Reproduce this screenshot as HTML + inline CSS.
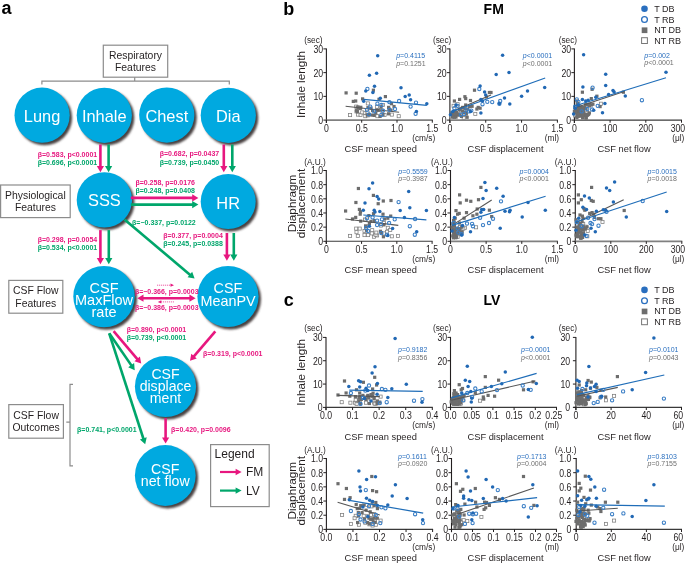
<!DOCTYPE html>
<html><head><meta charset="utf-8"><style>
html,body{margin:0;padding:0;background:#fff;overflow:hidden}
svg{display:block;will-change:transform}
</style></head><body>
<svg width="685" height="563" viewBox="0 0 685 563" font-family="Liberation Sans, sans-serif">
<defs><filter id="bl" x="-20%" y="-20%" width="140%" height="140%"><feGaussianBlur stdDeviation="0.9"/></filter></defs>
<rect width="685" height="563" fill="#fff"/>
<text x="1.50" y="14.30" font-size="18" fill="#000" text-anchor="start" font-weight="bold" >a</text><rect x="103.3" y="45.2" width="64.4" height="32" fill="none" stroke="#8c8c8c" stroke-width="1.2"/><text x="135.50" y="59.00" font-size="10.4" fill="#231f20" text-anchor="middle" >Respiratory</text><text x="135.50" y="71.40" font-size="10.4" fill="#231f20" text-anchor="middle" >Features</text><path d="M41.9 84.6V81.1H229.3V84.6M134.7 77.2V81.1" fill="none" stroke="#8c8c8c" stroke-width="1.2"/><circle cx="44.5" cy="117.7" r="27.6" fill="#4a4242" filter="url(#bl)"/><circle cx="42.1" cy="115.2" r="27.6" fill="#00a9e0"/><text x="42.10" y="121.80" font-size="16.4" fill="#fff" text-anchor="middle" >Lung</text><circle cx="106.7" cy="117.8" r="27.6" fill="#4a4242" filter="url(#bl)"/><circle cx="104.3" cy="115.3" r="27.6" fill="#00a9e0"/><text x="104.30" y="121.80" font-size="16.4" fill="#fff" text-anchor="middle" >Inhale</text><circle cx="169.20000000000002" cy="117.6" r="27.6" fill="#4a4242" filter="url(#bl)"/><circle cx="166.8" cy="115.1" r="27.6" fill="#00a9e0"/><text x="166.80" y="121.80" font-size="16.4" fill="#fff" text-anchor="middle" >Chest</text><circle cx="230.70000000000002" cy="117.8" r="27.6" fill="#4a4242" filter="url(#bl)"/><circle cx="228.3" cy="115.3" r="27.6" fill="#00a9e0"/><text x="228.30" y="121.80" font-size="16.4" fill="#fff" text-anchor="middle" >Dia</text><circle cx="106.80000000000001" cy="202.4" r="27.7" fill="#4a4242" filter="url(#bl)"/><circle cx="104.4" cy="199.9" r="27.7" fill="#00a9e0"/><text x="104.40" y="206.10" font-size="16.4" fill="#fff" text-anchor="middle" >SSS</text><circle cx="230.6" cy="204.0" r="27.5" fill="#4a4242" filter="url(#bl)"/><circle cx="228.2" cy="201.5" r="27.5" fill="#00a9e0"/><text x="228.20" y="208.50" font-size="16.4" fill="#fff" text-anchor="middle" >HR</text><circle cx="106.4" cy="299.1" r="30.7" fill="#4a4242" filter="url(#bl)"/><circle cx="104.0" cy="296.6" r="30.7" fill="#00a9e0"/><text x="104.00" y="292.70" font-size="14.5" fill="#fff" text-anchor="middle" >CSF</text><text x="104.00" y="305.20" font-size="14.5" fill="#fff" text-anchor="middle" >MaxFlow</text><text x="104.00" y="317.40" font-size="14.5" fill="#fff" text-anchor="middle" >rate</text><circle cx="230.4" cy="299.0" r="30.6" fill="#4a4242" filter="url(#bl)"/><circle cx="228.0" cy="296.5" r="30.6" fill="#00a9e0"/><text x="228.00" y="292.80" font-size="14.4" fill="#fff" text-anchor="middle" >CSF</text><text x="228.00" y="305.80" font-size="14.4" fill="#fff" text-anchor="middle" >MeanPV</text><circle cx="167.9" cy="389.0" r="30.6" fill="#4a4242" filter="url(#bl)"/><circle cx="165.5" cy="386.5" r="30.6" fill="#00a9e0"/><text x="165.50" y="378.50" font-size="14.1" fill="#fff" text-anchor="middle" >CSF</text><text x="165.50" y="390.60" font-size="14.1" fill="#fff" text-anchor="middle" >displace</text><text x="165.50" y="402.80" font-size="14.1" fill="#fff" text-anchor="middle" >ment</text><circle cx="167.70000000000002" cy="478.0" r="30.4" fill="#4a4242" filter="url(#bl)"/><circle cx="165.3" cy="475.5" r="30.4" fill="#00a9e0"/><text x="165.30" y="474.00" font-size="14.2" fill="#fff" text-anchor="middle" >CSF</text><text x="165.30" y="486.40" font-size="14.2" fill="#fff" text-anchor="middle" >net flow</text><rect x="0.6" y="185" width="69.6" height="32.6" fill="#fff" stroke="#8c8c8c" stroke-width="1.2"/><text x="35.40" y="198.89" font-size="10.4" fill="#231f20" text-anchor="middle" >Physiological</text><text x="35.40" y="211.19" font-size="10.4" fill="#231f20" text-anchor="middle" >Features</text><rect x="8.8" y="280.4" width="54" height="32.8" fill="#fff" stroke="#8c8c8c" stroke-width="1.2"/><text x="35.80" y="294.39" font-size="10.4" fill="#231f20" text-anchor="middle" >CSF Flow</text><text x="35.80" y="306.69" font-size="10.4" fill="#231f20" text-anchor="middle" >Features</text><rect x="8.8" y="404.6" width="54.6" height="33.6" fill="#fff" stroke="#8c8c8c" stroke-width="1.2"/><text x="36.10" y="418.99" font-size="10.4" fill="#231f20" text-anchor="middle" >CSF Flow</text><text x="36.10" y="431.29" font-size="10.4" fill="#231f20" text-anchor="middle" >Outcomes</text><path d="M73 384.3H70V465.9H73M70 422.2H66.3" fill="none" stroke="#8c8c8c" stroke-width="1.2"/><line x1="100.40" y1="144.50" x2="100.40" y2="167.24" stroke="#e7177f" stroke-width="2.6"/><path d="M100.40 172.20L96.80 166.00L104.00 166.00Z" fill="#e7177f"/><line x1="108.60" y1="144.50" x2="108.60" y2="167.24" stroke="#00a66b" stroke-width="2.6"/><path d="M108.60 172.20L105.00 166.00L112.20 166.00Z" fill="#00a66b"/><line x1="223.80" y1="144.50" x2="223.80" y2="167.24" stroke="#e7177f" stroke-width="2.6"/><path d="M223.80 172.20L220.20 166.00L227.40 166.00Z" fill="#e7177f"/><line x1="232.30" y1="144.50" x2="232.30" y2="167.24" stroke="#00a66b" stroke-width="2.6"/><path d="M232.30 172.20L228.70 166.00L235.90 166.00Z" fill="#00a66b"/><line x1="130.80" y1="197.90" x2="193.44" y2="197.90" stroke="#e7177f" stroke-width="2.6"/><path d="M198.40 197.90L192.20 201.50L192.20 194.30Z" fill="#e7177f"/><line x1="130.80" y1="204.60" x2="193.44" y2="204.60" stroke="#00a66b" stroke-width="2.6"/><path d="M198.40 204.60L192.20 208.20L192.20 201.00Z" fill="#00a66b"/><line x1="100.40" y1="230.10" x2="100.40" y2="259.34" stroke="#e7177f" stroke-width="2.6"/><path d="M100.40 264.30L96.80 258.10L104.00 258.10Z" fill="#e7177f"/><line x1="108.80" y1="230.10" x2="108.80" y2="259.34" stroke="#00a66b" stroke-width="2.6"/><path d="M108.80 264.30L105.20 258.10L112.40 258.10Z" fill="#00a66b"/><line x1="226.90" y1="233.00" x2="226.90" y2="255.84" stroke="#e7177f" stroke-width="2.6"/><path d="M226.90 260.80L223.30 254.60L230.50 254.60Z" fill="#e7177f"/><line x1="233.80" y1="233.00" x2="233.80" y2="255.84" stroke="#00a66b" stroke-width="2.6"/><path d="M233.80 260.80L230.20 254.60L237.40 254.60Z" fill="#00a66b"/><line x1="124.50" y1="219.50" x2="190.81" y2="275.40" stroke="#00a66b" stroke-width="2.6"/><path d="M194.60 278.60L187.54 277.36L192.18 271.85Z" fill="#00a66b"/><line x1="142.26" y1="298.20" x2="190.64" y2="298.20" stroke="#e7177f" stroke-width="2.6"/><path d="M195.60 298.20L189.40 301.80L189.40 294.60Z" fill="#e7177f"/><path d="M137.30 298.20L143.50 301.80L143.50 294.60Z" fill="#e7177f"/><line x1="113.60" y1="331.20" x2="137.98" y2="359.82" stroke="#e7177f" stroke-width="2.6"/><path d="M141.20 363.60L134.44 361.21L139.92 356.55Z" fill="#e7177f"/><line x1="109.20" y1="333.30" x2="131.88" y2="366.12" stroke="#00a66b" stroke-width="2.6"/><path d="M134.70 370.20L128.21 367.15L134.14 363.05Z" fill="#00a66b"/><line x1="109.20" y1="333.30" x2="143.67" y2="439.48" stroke="#00a66b" stroke-width="2.6"/><path d="M145.20 444.20L139.86 439.41L146.71 437.19Z" fill="#00a66b"/><line x1="215.30" y1="331.40" x2="193.24" y2="357.04" stroke="#e7177f" stroke-width="2.6"/><path d="M190.00 360.80L191.32 353.75L196.77 358.45Z" fill="#e7177f"/><line x1="165.60" y1="418.20" x2="165.60" y2="438.64" stroke="#e7177f" stroke-width="2.6"/><path d="M165.60 443.60L162.00 437.40L169.20 437.40Z" fill="#e7177f"/><line x1="157" y1="285.2" x2="171" y2="285.2" stroke="#e7177f" stroke-width="0.7" stroke-dasharray="1.2 0.8"/><path d="M174 285.2L170.5 283.6V286.8Z" fill="#e7177f"/><line x1="160.8" y1="301.9" x2="174.3" y2="301.9" stroke="#e7177f" stroke-width="0.7" stroke-dasharray="1.2 0.8"/><path d="M157.8 301.9L161.3 300.3V303.5Z" fill="#e7177f"/><text x="97.20" y="156.90" font-size="7" fill="#e7177f" text-anchor="end" font-weight="bold" >β=0.583, p&lt;0.0001</text><text x="97.20" y="164.70" font-size="7" fill="#00a66b" text-anchor="end" font-weight="bold" >β=0.696, p&lt;0.0001</text><text x="219.20" y="155.80" font-size="7" fill="#e7177f" text-anchor="end" font-weight="bold" >β=0.682, p=0.0437</text><text x="219.20" y="164.50" font-size="7" fill="#00a66b" text-anchor="end" font-weight="bold" >β=0.739, p=0.0450</text><text x="135.40" y="185.20" font-size="7" fill="#e7177f" text-anchor="start" font-weight="bold" >β=0.258, p=0.0176</text><text x="135.40" y="193.30" font-size="7" fill="#00a66b" text-anchor="start" font-weight="bold" >β=0.248, p=0.0408</text><text x="132.10" y="225.20" font-size="7" fill="#00a66b" text-anchor="start" font-weight="bold" >β=−0.337, p=0.0122</text><text x="97.20" y="242.00" font-size="7" fill="#e7177f" text-anchor="end" font-weight="bold" >β=0.298, p=0.0054</text><text x="97.20" y="249.70" font-size="7" fill="#00a66b" text-anchor="end" font-weight="bold" >β=0.534, p&lt;0.0001</text><text x="222.80" y="237.70" font-size="7" fill="#e7177f" text-anchor="end" font-weight="bold" >β=0.377, p=0.0004</text><text x="222.80" y="245.50" font-size="7" fill="#00a66b" text-anchor="end" font-weight="bold" >β=0.245, p=0.0388</text><text x="134.90" y="293.50" font-size="7" fill="#e7177f" text-anchor="start" font-weight="bold" >β=−0.366, p=0.0003</text><text x="134.90" y="309.90" font-size="7" fill="#e7177f" text-anchor="start" font-weight="bold" >β=−0.386, p=0.0003</text><text x="126.70" y="331.80" font-size="7" fill="#e7177f" text-anchor="start" font-weight="bold" >β=0.890, p&lt;0.0001</text><text x="126.70" y="340.10" font-size="7" fill="#00a66b" text-anchor="start" font-weight="bold" >β=0.739, p&lt;0.0001</text><text x="202.90" y="355.80" font-size="7" fill="#e7177f" text-anchor="start" font-weight="bold" >β=0.319, p&lt;0.0001</text><text x="77.10" y="432.00" font-size="7" fill="#00a66b" text-anchor="start" font-weight="bold" >β=0.741, p&lt;0.0001</text><text x="171.10" y="432.30" font-size="7" fill="#e7177f" text-anchor="start" font-weight="bold" >β=0.420, p=0.0096</text><rect x="210.6" y="444.6" width="58.6" height="62" fill="none" stroke="#8c8c8c" stroke-width="1.2"/><text x="214.60" y="458.10" font-size="12" fill="#231f20" text-anchor="start" >Legend</text><line x1="220.00" y1="472.00" x2="236.80" y2="472.00" stroke="#e7177f" stroke-width="2.2"/><path d="M241.60 472.00L235.60 475.20L235.60 468.80Z" fill="#e7177f"/><text x="246.00" y="476.30" font-size="12" fill="#231f20" text-anchor="start" >FM</text><line x1="220.00" y1="490.60" x2="236.80" y2="490.60" stroke="#00a66b" stroke-width="2.2"/><path d="M241.60 490.60L235.60 493.80L235.60 487.40Z" fill="#00a66b"/><text x="246.00" y="494.90" font-size="12" fill="#231f20" text-anchor="start" >LV</text>
<line x1="326.4" y1="48.40" x2="326.4" y2="122.90" stroke="#231f20" stroke-width="1.1"/><line x1="326.4" y1="120.1" x2="432.80" y2="120.1" stroke="#808080" stroke-width="1.7"/><line x1="323.40" y1="120.10" x2="326.4" y2="120.10" stroke="#231f20" stroke-width="1"/><text x="323.10" y="124.00" font-size="10" fill="#231f20" text-anchor="end" textLength="4.84" lengthAdjust="spacingAndGlyphs">0</text><line x1="323.40" y1="96.37" x2="326.4" y2="96.37" stroke="#231f20" stroke-width="1"/><text x="323.10" y="100.27" font-size="10" fill="#231f20" text-anchor="end" textLength="9.68" lengthAdjust="spacingAndGlyphs">10</text><line x1="323.40" y1="72.63" x2="326.4" y2="72.63" stroke="#231f20" stroke-width="1"/><text x="323.10" y="76.53" font-size="10" fill="#231f20" text-anchor="end" textLength="9.68" lengthAdjust="spacingAndGlyphs">20</text><line x1="323.40" y1="48.90" x2="326.4" y2="48.90" stroke="#231f20" stroke-width="1"/><text x="323.10" y="52.80" font-size="10" fill="#231f20" text-anchor="end" textLength="9.68" lengthAdjust="spacingAndGlyphs">30</text><line x1="326.40" y1="120.1" x2="326.40" y2="122.70" stroke="#231f20" stroke-width="1"/><text x="326.40" y="132.10" font-size="10" fill="#231f20" text-anchor="middle" textLength="4.84" lengthAdjust="spacingAndGlyphs">0</text><line x1="361.70" y1="120.1" x2="361.70" y2="122.70" stroke="#231f20" stroke-width="1"/><text x="361.70" y="132.10" font-size="10" fill="#231f20" text-anchor="middle" textLength="12.09" lengthAdjust="spacingAndGlyphs">0.5</text><line x1="397.00" y1="120.1" x2="397.00" y2="122.70" stroke="#231f20" stroke-width="1"/><text x="397.00" y="132.10" font-size="10" fill="#231f20" text-anchor="middle" textLength="12.09" lengthAdjust="spacingAndGlyphs">1.0</text><line x1="432.30" y1="120.1" x2="432.30" y2="122.70" stroke="#231f20" stroke-width="1"/><text x="432.30" y="132.10" font-size="10" fill="#231f20" text-anchor="middle" textLength="12.09" lengthAdjust="spacingAndGlyphs">1.5</text><text x="435.20" y="140.50" font-size="8.3" fill="#231f20" text-anchor="end" >(cm/s)</text><text x="380.70" y="151.90" font-size="9.3" fill="#231f20" text-anchor="middle" >CSF mean speed</text><text x="313.40" y="42.90" font-size="8.3" fill="#231f20" text-anchor="middle" >(sec)</text><text x="396.20" y="58.10" font-size="7" fill="#2a6fbf" text-anchor="start" ><tspan font-style="italic">p</tspan>=0.4115</text><text x="396.20" y="65.60" font-size="7" fill="#6f6f6f" text-anchor="start" ><tspan font-style="italic">p</tspan>=0.1251</text><line x1="449.9" y1="48.40" x2="449.9" y2="122.90" stroke="#231f20" stroke-width="1.1"/><line x1="449.9" y1="120.1" x2="557.90" y2="120.1" stroke="#808080" stroke-width="1.7"/><line x1="446.90" y1="120.10" x2="449.9" y2="120.10" stroke="#231f20" stroke-width="1"/><text x="446.60" y="124.00" font-size="10" fill="#231f20" text-anchor="end" textLength="4.84" lengthAdjust="spacingAndGlyphs">0</text><line x1="446.90" y1="96.37" x2="449.9" y2="96.37" stroke="#231f20" stroke-width="1"/><text x="446.60" y="100.27" font-size="10" fill="#231f20" text-anchor="end" textLength="9.68" lengthAdjust="spacingAndGlyphs">10</text><line x1="446.90" y1="72.63" x2="449.9" y2="72.63" stroke="#231f20" stroke-width="1"/><text x="446.60" y="76.53" font-size="10" fill="#231f20" text-anchor="end" textLength="9.68" lengthAdjust="spacingAndGlyphs">20</text><line x1="446.90" y1="48.90" x2="449.9" y2="48.90" stroke="#231f20" stroke-width="1"/><text x="446.60" y="52.80" font-size="10" fill="#231f20" text-anchor="end" textLength="9.68" lengthAdjust="spacingAndGlyphs">30</text><line x1="449.90" y1="120.1" x2="449.90" y2="122.70" stroke="#231f20" stroke-width="1"/><text x="449.90" y="132.10" font-size="10" fill="#231f20" text-anchor="middle" textLength="4.84" lengthAdjust="spacingAndGlyphs">0</text><line x1="485.73" y1="120.1" x2="485.73" y2="122.70" stroke="#231f20" stroke-width="1"/><text x="485.73" y="132.10" font-size="10" fill="#231f20" text-anchor="middle" textLength="12.09" lengthAdjust="spacingAndGlyphs">0.5</text><line x1="521.57" y1="120.1" x2="521.57" y2="122.70" stroke="#231f20" stroke-width="1"/><text x="521.57" y="132.10" font-size="10" fill="#231f20" text-anchor="middle" textLength="12.09" lengthAdjust="spacingAndGlyphs">1.0</text><line x1="557.40" y1="120.1" x2="557.40" y2="122.70" stroke="#231f20" stroke-width="1"/><text x="557.40" y="132.10" font-size="10" fill="#231f20" text-anchor="middle" textLength="12.09" lengthAdjust="spacingAndGlyphs">1.5</text><text x="559.00" y="140.50" font-size="8.3" fill="#231f20" text-anchor="end" >(ml)</text><text x="505.50" y="151.90" font-size="9.3" fill="#231f20" text-anchor="middle" >CSF displacement</text><text x="442.10" y="42.90" font-size="8.3" fill="#231f20" text-anchor="middle" >(sec)</text><text x="522.80" y="58.30" font-size="7" fill="#2a6fbf" text-anchor="start" ><tspan font-style="italic">p</tspan>&lt;0.0001</text><text x="522.80" y="65.80" font-size="7" fill="#6f6f6f" text-anchor="start" ><tspan font-style="italic">p</tspan>&lt;0.0001</text><line x1="574.4" y1="48.40" x2="574.4" y2="122.90" stroke="#231f20" stroke-width="1.1"/><line x1="574.4" y1="120.1" x2="682.00" y2="120.1" stroke="#3a3a3a" stroke-width="1.1"/><line x1="571.40" y1="120.10" x2="574.4" y2="120.10" stroke="#231f20" stroke-width="1"/><text x="571.10" y="124.00" font-size="10" fill="#231f20" text-anchor="end" textLength="4.84" lengthAdjust="spacingAndGlyphs">0</text><line x1="571.40" y1="96.37" x2="574.4" y2="96.37" stroke="#231f20" stroke-width="1"/><text x="571.10" y="100.27" font-size="10" fill="#231f20" text-anchor="end" textLength="9.68" lengthAdjust="spacingAndGlyphs">10</text><line x1="571.40" y1="72.63" x2="574.4" y2="72.63" stroke="#231f20" stroke-width="1"/><text x="571.10" y="76.53" font-size="10" fill="#231f20" text-anchor="end" textLength="9.68" lengthAdjust="spacingAndGlyphs">20</text><line x1="571.40" y1="48.90" x2="574.4" y2="48.90" stroke="#231f20" stroke-width="1"/><text x="571.10" y="52.80" font-size="10" fill="#231f20" text-anchor="end" textLength="9.68" lengthAdjust="spacingAndGlyphs">30</text><line x1="574.40" y1="120.1" x2="574.40" y2="122.70" stroke="#231f20" stroke-width="1"/><text x="574.40" y="132.10" font-size="10" fill="#231f20" text-anchor="middle" textLength="4.84" lengthAdjust="spacingAndGlyphs">0</text><line x1="610.10" y1="120.1" x2="610.10" y2="122.70" stroke="#231f20" stroke-width="1"/><text x="610.10" y="132.10" font-size="10" fill="#231f20" text-anchor="middle" textLength="14.51" lengthAdjust="spacingAndGlyphs">100</text><line x1="645.80" y1="120.1" x2="645.80" y2="122.70" stroke="#231f20" stroke-width="1"/><text x="645.80" y="132.10" font-size="10" fill="#231f20" text-anchor="middle" textLength="14.51" lengthAdjust="spacingAndGlyphs">200</text><line x1="681.50" y1="120.1" x2="681.50" y2="122.70" stroke="#231f20" stroke-width="1"/><text x="685.20" y="132.10" font-size="10" fill="#231f20" text-anchor="end" textLength="14.51" lengthAdjust="spacingAndGlyphs">300</text><text x="684.40" y="140.50" font-size="8.3" fill="#231f20" text-anchor="end" >(μl)</text><text x="624.00" y="151.90" font-size="9.3" fill="#231f20" text-anchor="middle" >CSF net flow</text><text x="567.90" y="42.90" font-size="8.3" fill="#231f20" text-anchor="middle" >(sec)</text><text x="644.30" y="57.90" font-size="7" fill="#2a6fbf" text-anchor="start" ><tspan font-style="italic">p</tspan>=0.002</text><text x="644.30" y="65.40" font-size="7" fill="#6f6f6f" text-anchor="start" ><tspan font-style="italic">p</tspan>&lt;0.0001</text><line x1="326.3" y1="170.00" x2="326.3" y2="244.10" stroke="#231f20" stroke-width="1.1"/><line x1="326.3" y1="241.3" x2="432.60" y2="241.3" stroke="#3a3a3a" stroke-width="1.1"/><line x1="323.30" y1="241.30" x2="326.3" y2="241.30" stroke="#231f20" stroke-width="1"/><text x="323.00" y="245.20" font-size="10" fill="#231f20" text-anchor="end" textLength="4.84" lengthAdjust="spacingAndGlyphs">0</text><line x1="323.30" y1="227.14" x2="326.3" y2="227.14" stroke="#231f20" stroke-width="1"/><text x="323.00" y="231.04" font-size="10" fill="#231f20" text-anchor="end" textLength="12.09" lengthAdjust="spacingAndGlyphs">0.2</text><line x1="323.30" y1="212.98" x2="326.3" y2="212.98" stroke="#231f20" stroke-width="1"/><text x="323.00" y="216.88" font-size="10" fill="#231f20" text-anchor="end" textLength="12.09" lengthAdjust="spacingAndGlyphs">0.4</text><line x1="323.30" y1="198.82" x2="326.3" y2="198.82" stroke="#231f20" stroke-width="1"/><text x="323.00" y="202.72" font-size="10" fill="#231f20" text-anchor="end" textLength="12.09" lengthAdjust="spacingAndGlyphs">0.6</text><line x1="323.30" y1="184.66" x2="326.3" y2="184.66" stroke="#231f20" stroke-width="1"/><text x="323.00" y="188.56" font-size="10" fill="#231f20" text-anchor="end" textLength="12.09" lengthAdjust="spacingAndGlyphs">0.8</text><line x1="323.30" y1="170.50" x2="326.3" y2="170.50" stroke="#231f20" stroke-width="1"/><text x="323.00" y="174.40" font-size="10" fill="#231f20" text-anchor="end" textLength="12.09" lengthAdjust="spacingAndGlyphs">1.0</text><line x1="326.30" y1="241.3" x2="326.30" y2="243.90" stroke="#231f20" stroke-width="1"/><text x="326.30" y="253.30" font-size="10" fill="#231f20" text-anchor="middle" textLength="4.84" lengthAdjust="spacingAndGlyphs">0</text><line x1="361.57" y1="241.3" x2="361.57" y2="243.90" stroke="#231f20" stroke-width="1"/><text x="361.57" y="253.30" font-size="10" fill="#231f20" text-anchor="middle" textLength="12.09" lengthAdjust="spacingAndGlyphs">0.5</text><line x1="396.83" y1="241.3" x2="396.83" y2="243.90" stroke="#231f20" stroke-width="1"/><text x="396.83" y="253.30" font-size="10" fill="#231f20" text-anchor="middle" textLength="12.09" lengthAdjust="spacingAndGlyphs">1.0</text><line x1="432.10" y1="241.3" x2="432.10" y2="243.90" stroke="#231f20" stroke-width="1"/><text x="432.10" y="253.30" font-size="10" fill="#231f20" text-anchor="middle" textLength="12.09" lengthAdjust="spacingAndGlyphs">1.5</text><text x="435.20" y="261.70" font-size="8.3" fill="#231f20" text-anchor="end" >(cm/s)</text><text x="380.70" y="273.40" font-size="9.3" fill="#231f20" text-anchor="middle" >CSF mean speed</text><text x="315.00" y="164.50" font-size="8.3" fill="#231f20" text-anchor="middle" >(A.U.)</text><text x="398.30" y="173.90" font-size="7" fill="#2a6fbf" text-anchor="start" ><tspan font-style="italic">p</tspan>=0.5559</text><text x="398.30" y="181.40" font-size="7" fill="#6f6f6f" text-anchor="start" ><tspan font-style="italic">p</tspan>=0.3987</text><line x1="450.5" y1="170.00" x2="450.5" y2="244.10" stroke="#231f20" stroke-width="1.1"/><line x1="450.5" y1="241.3" x2="557.90" y2="241.3" stroke="#808080" stroke-width="1.7"/><line x1="447.50" y1="241.30" x2="450.5" y2="241.30" stroke="#231f20" stroke-width="1"/><text x="447.20" y="245.20" font-size="10" fill="#231f20" text-anchor="end" textLength="4.84" lengthAdjust="spacingAndGlyphs">0</text><line x1="447.50" y1="227.14" x2="450.5" y2="227.14" stroke="#231f20" stroke-width="1"/><text x="447.20" y="231.04" font-size="10" fill="#231f20" text-anchor="end" textLength="12.09" lengthAdjust="spacingAndGlyphs">0.2</text><line x1="447.50" y1="212.98" x2="450.5" y2="212.98" stroke="#231f20" stroke-width="1"/><text x="447.20" y="216.88" font-size="10" fill="#231f20" text-anchor="end" textLength="12.09" lengthAdjust="spacingAndGlyphs">0.4</text><line x1="447.50" y1="198.82" x2="450.5" y2="198.82" stroke="#231f20" stroke-width="1"/><text x="447.20" y="202.72" font-size="10" fill="#231f20" text-anchor="end" textLength="12.09" lengthAdjust="spacingAndGlyphs">0.6</text><line x1="447.50" y1="184.66" x2="450.5" y2="184.66" stroke="#231f20" stroke-width="1"/><text x="447.20" y="188.56" font-size="10" fill="#231f20" text-anchor="end" textLength="12.09" lengthAdjust="spacingAndGlyphs">0.8</text><line x1="447.50" y1="170.50" x2="450.5" y2="170.50" stroke="#231f20" stroke-width="1"/><text x="447.20" y="174.40" font-size="10" fill="#231f20" text-anchor="end" textLength="12.09" lengthAdjust="spacingAndGlyphs">1.0</text><line x1="450.50" y1="241.3" x2="450.50" y2="243.90" stroke="#231f20" stroke-width="1"/><text x="450.50" y="253.30" font-size="10" fill="#231f20" text-anchor="middle" textLength="4.84" lengthAdjust="spacingAndGlyphs">0</text><line x1="486.13" y1="241.3" x2="486.13" y2="243.90" stroke="#231f20" stroke-width="1"/><text x="486.13" y="253.30" font-size="10" fill="#231f20" text-anchor="middle" textLength="12.09" lengthAdjust="spacingAndGlyphs">0.5</text><line x1="521.77" y1="241.3" x2="521.77" y2="243.90" stroke="#231f20" stroke-width="1"/><text x="521.77" y="253.30" font-size="10" fill="#231f20" text-anchor="middle" textLength="12.09" lengthAdjust="spacingAndGlyphs">1.0</text><line x1="557.40" y1="241.3" x2="557.40" y2="243.90" stroke="#231f20" stroke-width="1"/><text x="557.40" y="253.30" font-size="10" fill="#231f20" text-anchor="middle" textLength="12.09" lengthAdjust="spacingAndGlyphs">1.5</text><text x="559.00" y="261.70" font-size="8.3" fill="#231f20" text-anchor="end" >(ml)</text><text x="505.50" y="273.40" font-size="9.3" fill="#231f20" text-anchor="middle" >CSF displacement</text><text x="441.90" y="164.50" font-size="8.3" fill="#231f20" text-anchor="middle" >(A.U.)</text><text x="519.50" y="173.90" font-size="7" fill="#2a6fbf" text-anchor="start" ><tspan font-style="italic">p</tspan>=0.0004</text><text x="519.50" y="181.40" font-size="7" fill="#6f6f6f" text-anchor="start" ><tspan font-style="italic">p</tspan>&lt;0.0001</text><line x1="575.3" y1="170.00" x2="575.3" y2="244.10" stroke="#231f20" stroke-width="1.1"/><line x1="574.6" y1="241.3" x2="682.30" y2="241.3" stroke="#808080" stroke-width="1.7"/><line x1="572.30" y1="241.30" x2="575.3" y2="241.30" stroke="#231f20" stroke-width="1"/><text x="571.30" y="245.20" font-size="10" fill="#231f20" text-anchor="end" textLength="4.84" lengthAdjust="spacingAndGlyphs">0</text><line x1="572.30" y1="227.14" x2="575.3" y2="227.14" stroke="#231f20" stroke-width="1"/><text x="571.30" y="231.04" font-size="10" fill="#231f20" text-anchor="end" textLength="12.09" lengthAdjust="spacingAndGlyphs">0.2</text><line x1="572.30" y1="212.98" x2="575.3" y2="212.98" stroke="#231f20" stroke-width="1"/><text x="571.30" y="216.88" font-size="10" fill="#231f20" text-anchor="end" textLength="12.09" lengthAdjust="spacingAndGlyphs">0.4</text><line x1="572.30" y1="198.82" x2="575.3" y2="198.82" stroke="#231f20" stroke-width="1"/><text x="571.30" y="202.72" font-size="10" fill="#231f20" text-anchor="end" textLength="12.09" lengthAdjust="spacingAndGlyphs">0.6</text><line x1="572.30" y1="184.66" x2="575.3" y2="184.66" stroke="#231f20" stroke-width="1"/><text x="571.30" y="188.56" font-size="10" fill="#231f20" text-anchor="end" textLength="12.09" lengthAdjust="spacingAndGlyphs">0.8</text><line x1="572.30" y1="170.50" x2="575.3" y2="170.50" stroke="#231f20" stroke-width="1"/><text x="571.30" y="174.40" font-size="10" fill="#231f20" text-anchor="end" textLength="12.09" lengthAdjust="spacingAndGlyphs">1.0</text><line x1="575.30" y1="241.3" x2="575.30" y2="243.90" stroke="#231f20" stroke-width="1"/><text x="575.30" y="253.30" font-size="10" fill="#231f20" text-anchor="middle" textLength="4.84" lengthAdjust="spacingAndGlyphs">0</text><line x1="610.80" y1="241.3" x2="610.80" y2="243.90" stroke="#231f20" stroke-width="1"/><text x="610.80" y="253.30" font-size="10" fill="#231f20" text-anchor="middle" textLength="14.51" lengthAdjust="spacingAndGlyphs">100</text><line x1="646.30" y1="241.3" x2="646.30" y2="243.90" stroke="#231f20" stroke-width="1"/><text x="646.30" y="253.30" font-size="10" fill="#231f20" text-anchor="middle" textLength="14.51" lengthAdjust="spacingAndGlyphs">200</text><line x1="681.80" y1="241.3" x2="681.80" y2="243.90" stroke="#231f20" stroke-width="1"/><text x="685.20" y="253.30" font-size="10" fill="#231f20" text-anchor="end" textLength="14.51" lengthAdjust="spacingAndGlyphs">300</text><text x="684.40" y="261.70" font-size="8.3" fill="#231f20" text-anchor="end" >(μl)</text><text x="624.00" y="273.40" font-size="9.3" fill="#231f20" text-anchor="middle" >CSF net flow</text><text x="565.70" y="164.50" font-size="8.3" fill="#231f20" text-anchor="middle" >(A.U.)</text><text x="647.50" y="173.90" font-size="7" fill="#2a6fbf" text-anchor="start" ><tspan font-style="italic">p</tspan>=0.0015</text><text x="647.50" y="181.40" font-size="7" fill="#6f6f6f" text-anchor="start" ><tspan font-style="italic">p</tspan>=0.0018</text><line x1="326.0" y1="336.90" x2="326.0" y2="410.20" stroke="#231f20" stroke-width="1.1"/><line x1="326.0" y1="407.4" x2="432.80" y2="407.4" stroke="#3a3a3a" stroke-width="1.1"/><line x1="323.00" y1="407.40" x2="326.0" y2="407.40" stroke="#231f20" stroke-width="1"/><text x="322.70" y="411.30" font-size="10" fill="#231f20" text-anchor="end" textLength="4.84" lengthAdjust="spacingAndGlyphs">0</text><line x1="323.00" y1="384.07" x2="326.0" y2="384.07" stroke="#231f20" stroke-width="1"/><text x="322.70" y="387.97" font-size="10" fill="#231f20" text-anchor="end" textLength="9.68" lengthAdjust="spacingAndGlyphs">10</text><line x1="323.00" y1="360.73" x2="326.0" y2="360.73" stroke="#231f20" stroke-width="1"/><text x="322.70" y="364.63" font-size="10" fill="#231f20" text-anchor="end" textLength="9.68" lengthAdjust="spacingAndGlyphs">20</text><line x1="323.00" y1="337.40" x2="326.0" y2="337.40" stroke="#231f20" stroke-width="1"/><text x="322.70" y="341.30" font-size="10" fill="#231f20" text-anchor="end" textLength="9.68" lengthAdjust="spacingAndGlyphs">30</text><line x1="326.00" y1="407.4" x2="326.00" y2="410.00" stroke="#231f20" stroke-width="1"/><text x="326.00" y="419.40" font-size="10" fill="#231f20" text-anchor="middle" textLength="12.09" lengthAdjust="spacingAndGlyphs">0.0</text><line x1="352.57" y1="407.4" x2="352.57" y2="410.00" stroke="#231f20" stroke-width="1"/><text x="352.57" y="419.40" font-size="10" fill="#231f20" text-anchor="middle" textLength="12.09" lengthAdjust="spacingAndGlyphs">0.1</text><line x1="379.15" y1="407.4" x2="379.15" y2="410.00" stroke="#231f20" stroke-width="1"/><text x="379.15" y="419.40" font-size="10" fill="#231f20" text-anchor="middle" textLength="12.09" lengthAdjust="spacingAndGlyphs">0.2</text><line x1="405.73" y1="407.4" x2="405.73" y2="410.00" stroke="#231f20" stroke-width="1"/><text x="405.73" y="419.40" font-size="10" fill="#231f20" text-anchor="middle" textLength="12.09" lengthAdjust="spacingAndGlyphs">0.3</text><line x1="432.30" y1="407.4" x2="432.30" y2="410.00" stroke="#231f20" stroke-width="1"/><text x="432.30" y="419.40" font-size="10" fill="#231f20" text-anchor="middle" textLength="12.09" lengthAdjust="spacingAndGlyphs">0.4</text><text x="435.20" y="427.80" font-size="8.3" fill="#231f20" text-anchor="end" >(cm/s)</text><text x="380.70" y="440.00" font-size="9.3" fill="#231f20" text-anchor="middle" >CSF mean speed</text><text x="313.40" y="331.40" font-size="8.3" fill="#231f20" text-anchor="middle" >(sec)</text><text x="398.00" y="352.30" font-size="7" fill="#2a6fbf" text-anchor="start" ><tspan font-style="italic">p</tspan>=0.9182</text><text x="398.00" y="359.80" font-size="7" fill="#6f6f6f" text-anchor="start" ><tspan font-style="italic">p</tspan>=0.8356</text><line x1="450.5" y1="336.90" x2="450.5" y2="410.20" stroke="#231f20" stroke-width="1.1"/><line x1="450.5" y1="407.4" x2="557.00" y2="407.4" stroke="#3a3a3a" stroke-width="1.1"/><line x1="447.50" y1="407.40" x2="450.5" y2="407.40" stroke="#231f20" stroke-width="1"/><text x="447.20" y="411.30" font-size="10" fill="#231f20" text-anchor="end" textLength="4.84" lengthAdjust="spacingAndGlyphs">0</text><line x1="447.50" y1="384.07" x2="450.5" y2="384.07" stroke="#231f20" stroke-width="1"/><text x="447.20" y="387.97" font-size="10" fill="#231f20" text-anchor="end" textLength="9.68" lengthAdjust="spacingAndGlyphs">10</text><line x1="447.50" y1="360.73" x2="450.5" y2="360.73" stroke="#231f20" stroke-width="1"/><text x="447.20" y="364.63" font-size="10" fill="#231f20" text-anchor="end" textLength="9.68" lengthAdjust="spacingAndGlyphs">20</text><line x1="447.50" y1="337.40" x2="450.5" y2="337.40" stroke="#231f20" stroke-width="1"/><text x="447.20" y="341.30" font-size="10" fill="#231f20" text-anchor="end" textLength="9.68" lengthAdjust="spacingAndGlyphs">30</text><line x1="450.50" y1="407.4" x2="450.50" y2="410.00" stroke="#231f20" stroke-width="1"/><text x="450.50" y="419.40" font-size="10" fill="#231f20" text-anchor="middle" textLength="12.09" lengthAdjust="spacingAndGlyphs">0.0</text><line x1="471.70" y1="407.4" x2="471.70" y2="410.00" stroke="#231f20" stroke-width="1"/><text x="471.70" y="419.40" font-size="10" fill="#231f20" text-anchor="middle" textLength="16.93" lengthAdjust="spacingAndGlyphs">0.05</text><line x1="492.90" y1="407.4" x2="492.90" y2="410.00" stroke="#231f20" stroke-width="1"/><text x="492.90" y="419.40" font-size="10" fill="#231f20" text-anchor="middle" textLength="12.09" lengthAdjust="spacingAndGlyphs">0.1</text><line x1="514.10" y1="407.4" x2="514.10" y2="410.00" stroke="#231f20" stroke-width="1"/><text x="514.10" y="419.40" font-size="10" fill="#231f20" text-anchor="middle" textLength="16.93" lengthAdjust="spacingAndGlyphs">0.15</text><line x1="535.30" y1="407.4" x2="535.30" y2="410.00" stroke="#231f20" stroke-width="1"/><text x="535.30" y="419.40" font-size="10" fill="#231f20" text-anchor="middle" textLength="12.09" lengthAdjust="spacingAndGlyphs">0.2</text><line x1="556.50" y1="407.4" x2="556.50" y2="410.00" stroke="#231f20" stroke-width="1"/><text x="553.80" y="419.40" font-size="10" fill="#231f20" text-anchor="middle" textLength="16.93" lengthAdjust="spacingAndGlyphs">0.25</text><text x="559.00" y="427.80" font-size="8.3" fill="#231f20" text-anchor="end" >(ml)</text><text x="505.50" y="440.00" font-size="9.3" fill="#231f20" text-anchor="middle" >CSF displacement</text><text x="442.10" y="331.40" font-size="8.3" fill="#231f20" text-anchor="middle" >(sec)</text><text x="521.10" y="352.30" font-size="7" fill="#2a6fbf" text-anchor="start" ><tspan font-style="italic">p</tspan>=0.0001</text><text x="521.10" y="359.80" font-size="7" fill="#6f6f6f" text-anchor="start" ><tspan font-style="italic">p</tspan>&lt;0.0001</text><line x1="575.9" y1="336.90" x2="575.9" y2="410.20" stroke="#231f20" stroke-width="1.1"/><line x1="573.4" y1="407.4" x2="682.00" y2="407.4" stroke="#3a3a3a" stroke-width="1.1"/><line x1="572.90" y1="407.40" x2="575.9" y2="407.40" stroke="#231f20" stroke-width="1"/><text x="570.10" y="411.30" font-size="10" fill="#231f20" text-anchor="end" textLength="4.84" lengthAdjust="spacingAndGlyphs">0</text><line x1="572.90" y1="384.07" x2="575.9" y2="384.07" stroke="#231f20" stroke-width="1"/><text x="570.10" y="387.97" font-size="10" fill="#231f20" text-anchor="end" textLength="9.68" lengthAdjust="spacingAndGlyphs">10</text><line x1="572.90" y1="360.73" x2="575.9" y2="360.73" stroke="#231f20" stroke-width="1"/><text x="570.10" y="364.63" font-size="10" fill="#231f20" text-anchor="end" textLength="9.68" lengthAdjust="spacingAndGlyphs">20</text><line x1="572.90" y1="337.40" x2="575.9" y2="337.40" stroke="#231f20" stroke-width="1"/><text x="570.10" y="341.30" font-size="10" fill="#231f20" text-anchor="end" textLength="9.68" lengthAdjust="spacingAndGlyphs">30</text><line x1="575.90" y1="407.4" x2="575.90" y2="410.00" stroke="#231f20" stroke-width="1"/><text x="575.90" y="419.40" font-size="10" fill="#231f20" text-anchor="middle" textLength="4.84" lengthAdjust="spacingAndGlyphs">0</text><line x1="611.10" y1="407.4" x2="611.10" y2="410.00" stroke="#231f20" stroke-width="1"/><text x="611.10" y="419.40" font-size="10" fill="#231f20" text-anchor="middle" textLength="9.68" lengthAdjust="spacingAndGlyphs">20</text><line x1="646.30" y1="407.4" x2="646.30" y2="410.00" stroke="#231f20" stroke-width="1"/><text x="646.30" y="419.40" font-size="10" fill="#231f20" text-anchor="middle" textLength="9.68" lengthAdjust="spacingAndGlyphs">40</text><line x1="681.50" y1="407.4" x2="681.50" y2="410.00" stroke="#231f20" stroke-width="1"/><text x="683.20" y="419.40" font-size="10" fill="#231f20" text-anchor="end" textLength="9.68" lengthAdjust="spacingAndGlyphs">60</text><text x="684.40" y="427.80" font-size="8.3" fill="#231f20" text-anchor="end" >(μl)</text><text x="624.00" y="440.00" font-size="9.3" fill="#231f20" text-anchor="middle" >CSF net flow</text><text x="567.90" y="331.40" font-size="8.3" fill="#231f20" text-anchor="middle" >(sec)</text><text x="649.10" y="352.30" font-size="7" fill="#2a6fbf" text-anchor="start" ><tspan font-style="italic">p</tspan>=0.0101</text><text x="649.10" y="359.80" font-size="7" fill="#6f6f6f" text-anchor="start" ><tspan font-style="italic">p</tspan>=0.0043</text><line x1="326.4" y1="458.00" x2="326.4" y2="532.20" stroke="#231f20" stroke-width="1.1"/><line x1="326.4" y1="529.4" x2="433.10" y2="529.4" stroke="#3a3a3a" stroke-width="1.1"/><line x1="323.40" y1="529.40" x2="326.4" y2="529.40" stroke="#231f20" stroke-width="1"/><text x="323.10" y="533.30" font-size="10" fill="#231f20" text-anchor="end" textLength="4.84" lengthAdjust="spacingAndGlyphs">0</text><line x1="323.40" y1="515.22" x2="326.4" y2="515.22" stroke="#231f20" stroke-width="1"/><text x="323.10" y="519.12" font-size="10" fill="#231f20" text-anchor="end" textLength="12.09" lengthAdjust="spacingAndGlyphs">0.2</text><line x1="323.40" y1="501.04" x2="326.4" y2="501.04" stroke="#231f20" stroke-width="1"/><text x="323.10" y="504.94" font-size="10" fill="#231f20" text-anchor="end" textLength="12.09" lengthAdjust="spacingAndGlyphs">0.4</text><line x1="323.40" y1="486.86" x2="326.4" y2="486.86" stroke="#231f20" stroke-width="1"/><text x="323.10" y="490.76" font-size="10" fill="#231f20" text-anchor="end" textLength="12.09" lengthAdjust="spacingAndGlyphs">0.6</text><line x1="323.40" y1="472.68" x2="326.4" y2="472.68" stroke="#231f20" stroke-width="1"/><text x="323.10" y="476.58" font-size="10" fill="#231f20" text-anchor="end" textLength="12.09" lengthAdjust="spacingAndGlyphs">0.8</text><line x1="323.40" y1="458.50" x2="326.4" y2="458.50" stroke="#231f20" stroke-width="1"/><text x="323.10" y="462.40" font-size="10" fill="#231f20" text-anchor="end" textLength="12.09" lengthAdjust="spacingAndGlyphs">1.0</text><line x1="326.40" y1="529.4" x2="326.40" y2="532.00" stroke="#231f20" stroke-width="1"/><text x="326.40" y="541.40" font-size="10" fill="#231f20" text-anchor="middle" textLength="12.09" lengthAdjust="spacingAndGlyphs">0.0</text><line x1="352.95" y1="529.4" x2="352.95" y2="532.00" stroke="#231f20" stroke-width="1"/><text x="352.95" y="541.40" font-size="10" fill="#231f20" text-anchor="middle" textLength="12.09" lengthAdjust="spacingAndGlyphs">0.1</text><line x1="379.50" y1="529.4" x2="379.50" y2="532.00" stroke="#231f20" stroke-width="1"/><text x="379.50" y="541.40" font-size="10" fill="#231f20" text-anchor="middle" textLength="12.09" lengthAdjust="spacingAndGlyphs">0.2</text><line x1="406.05" y1="529.4" x2="406.05" y2="532.00" stroke="#231f20" stroke-width="1"/><text x="406.05" y="541.40" font-size="10" fill="#231f20" text-anchor="middle" textLength="12.09" lengthAdjust="spacingAndGlyphs">0.3</text><line x1="432.60" y1="529.4" x2="432.60" y2="532.00" stroke="#231f20" stroke-width="1"/><text x="432.60" y="541.40" font-size="10" fill="#231f20" text-anchor="middle" textLength="12.09" lengthAdjust="spacingAndGlyphs">0.4</text><text x="435.20" y="549.80" font-size="8.3" fill="#231f20" text-anchor="end" >(cm/s)</text><text x="380.70" y="561.20" font-size="9.3" fill="#231f20" text-anchor="middle" >CSF mean speed</text><text x="315.00" y="452.50" font-size="8.3" fill="#231f20" text-anchor="middle" >(A.U.)</text><text x="398.00" y="458.60" font-size="7" fill="#2a6fbf" text-anchor="start" ><tspan font-style="italic">p</tspan>=0.1611</text><text x="398.00" y="466.10" font-size="7" fill="#6f6f6f" text-anchor="start" ><tspan font-style="italic">p</tspan>=0.0920</text><line x1="451.5" y1="458.00" x2="451.5" y2="532.20" stroke="#231f20" stroke-width="1.1"/><line x1="451.5" y1="529.4" x2="557.00" y2="529.4" stroke="#3a3a3a" stroke-width="1.1"/><line x1="448.50" y1="529.40" x2="451.5" y2="529.40" stroke="#231f20" stroke-width="1"/><text x="448.20" y="533.30" font-size="10" fill="#231f20" text-anchor="end" textLength="4.84" lengthAdjust="spacingAndGlyphs">0</text><line x1="448.50" y1="515.22" x2="451.5" y2="515.22" stroke="#231f20" stroke-width="1"/><text x="448.20" y="519.12" font-size="10" fill="#231f20" text-anchor="end" textLength="12.09" lengthAdjust="spacingAndGlyphs">0.2</text><line x1="448.50" y1="501.04" x2="451.5" y2="501.04" stroke="#231f20" stroke-width="1"/><text x="448.20" y="504.94" font-size="10" fill="#231f20" text-anchor="end" textLength="12.09" lengthAdjust="spacingAndGlyphs">0.4</text><line x1="448.50" y1="486.86" x2="451.5" y2="486.86" stroke="#231f20" stroke-width="1"/><text x="448.20" y="490.76" font-size="10" fill="#231f20" text-anchor="end" textLength="12.09" lengthAdjust="spacingAndGlyphs">0.6</text><line x1="448.50" y1="472.68" x2="451.5" y2="472.68" stroke="#231f20" stroke-width="1"/><text x="448.20" y="476.58" font-size="10" fill="#231f20" text-anchor="end" textLength="12.09" lengthAdjust="spacingAndGlyphs">0.8</text><line x1="448.50" y1="458.50" x2="451.5" y2="458.50" stroke="#231f20" stroke-width="1"/><text x="448.20" y="462.40" font-size="10" fill="#231f20" text-anchor="end" textLength="12.09" lengthAdjust="spacingAndGlyphs">1.0</text><line x1="451.50" y1="529.4" x2="451.50" y2="532.00" stroke="#231f20" stroke-width="1"/><text x="451.50" y="541.40" font-size="10" fill="#231f20" text-anchor="middle" textLength="12.09" lengthAdjust="spacingAndGlyphs">0.0</text><line x1="472.50" y1="529.4" x2="472.50" y2="532.00" stroke="#231f20" stroke-width="1"/><text x="472.50" y="541.40" font-size="10" fill="#231f20" text-anchor="middle" textLength="16.93" lengthAdjust="spacingAndGlyphs">0.05</text><line x1="493.50" y1="529.4" x2="493.50" y2="532.00" stroke="#231f20" stroke-width="1"/><text x="493.50" y="541.40" font-size="10" fill="#231f20" text-anchor="middle" textLength="12.09" lengthAdjust="spacingAndGlyphs">0.1</text><line x1="514.50" y1="529.4" x2="514.50" y2="532.00" stroke="#231f20" stroke-width="1"/><text x="514.50" y="541.40" font-size="10" fill="#231f20" text-anchor="middle" textLength="16.93" lengthAdjust="spacingAndGlyphs">0.15</text><line x1="535.50" y1="529.4" x2="535.50" y2="532.00" stroke="#231f20" stroke-width="1"/><text x="535.50" y="541.40" font-size="10" fill="#231f20" text-anchor="middle" textLength="12.09" lengthAdjust="spacingAndGlyphs">0.2</text><line x1="556.50" y1="529.4" x2="556.50" y2="532.00" stroke="#231f20" stroke-width="1"/><text x="553.80" y="541.40" font-size="10" fill="#231f20" text-anchor="middle" textLength="16.93" lengthAdjust="spacingAndGlyphs">0.25</text><text x="559.00" y="549.80" font-size="8.3" fill="#231f20" text-anchor="end" >(ml)</text><text x="505.50" y="561.20" font-size="9.3" fill="#231f20" text-anchor="middle" >CSF displacement</text><text x="441.90" y="452.50" font-size="8.3" fill="#231f20" text-anchor="middle" >(A.U.)</text><text x="517.10" y="458.60" font-size="7" fill="#2a6fbf" text-anchor="start" ><tspan font-style="italic">p</tspan>=0.1713</text><text x="517.10" y="466.10" font-size="7" fill="#6f6f6f" text-anchor="start" ><tspan font-style="italic">p</tspan>=0.0004</text><line x1="576.2" y1="458.00" x2="576.2" y2="532.20" stroke="#231f20" stroke-width="1.1"/><line x1="574.6" y1="529.4" x2="682.00" y2="529.4" stroke="#3a3a3a" stroke-width="1.1"/><line x1="573.20" y1="529.40" x2="576.2" y2="529.40" stroke="#231f20" stroke-width="1"/><text x="571.30" y="533.30" font-size="10" fill="#231f20" text-anchor="end" textLength="4.84" lengthAdjust="spacingAndGlyphs">0</text><line x1="573.20" y1="515.22" x2="576.2" y2="515.22" stroke="#231f20" stroke-width="1"/><text x="571.30" y="519.12" font-size="10" fill="#231f20" text-anchor="end" textLength="12.09" lengthAdjust="spacingAndGlyphs">0.2</text><line x1="573.20" y1="501.04" x2="576.2" y2="501.04" stroke="#231f20" stroke-width="1"/><text x="571.30" y="504.94" font-size="10" fill="#231f20" text-anchor="end" textLength="12.09" lengthAdjust="spacingAndGlyphs">0.4</text><line x1="573.20" y1="486.86" x2="576.2" y2="486.86" stroke="#231f20" stroke-width="1"/><text x="571.30" y="490.76" font-size="10" fill="#231f20" text-anchor="end" textLength="12.09" lengthAdjust="spacingAndGlyphs">0.6</text><line x1="573.20" y1="472.68" x2="576.2" y2="472.68" stroke="#231f20" stroke-width="1"/><text x="571.30" y="476.58" font-size="10" fill="#231f20" text-anchor="end" textLength="12.09" lengthAdjust="spacingAndGlyphs">0.8</text><line x1="573.20" y1="458.50" x2="576.2" y2="458.50" stroke="#231f20" stroke-width="1"/><text x="571.30" y="462.40" font-size="10" fill="#231f20" text-anchor="end" textLength="12.09" lengthAdjust="spacingAndGlyphs">1.0</text><line x1="576.20" y1="529.4" x2="576.20" y2="532.00" stroke="#231f20" stroke-width="1"/><text x="576.20" y="541.40" font-size="10" fill="#231f20" text-anchor="middle" textLength="4.84" lengthAdjust="spacingAndGlyphs">0</text><line x1="611.30" y1="529.4" x2="611.30" y2="532.00" stroke="#231f20" stroke-width="1"/><text x="611.30" y="541.40" font-size="10" fill="#231f20" text-anchor="middle" textLength="9.68" lengthAdjust="spacingAndGlyphs">20</text><line x1="646.40" y1="529.4" x2="646.40" y2="532.00" stroke="#231f20" stroke-width="1"/><text x="646.40" y="541.40" font-size="10" fill="#231f20" text-anchor="middle" textLength="9.68" lengthAdjust="spacingAndGlyphs">40</text><line x1="681.50" y1="529.4" x2="681.50" y2="532.00" stroke="#231f20" stroke-width="1"/><text x="683.20" y="541.40" font-size="10" fill="#231f20" text-anchor="end" textLength="9.68" lengthAdjust="spacingAndGlyphs">60</text><text x="684.40" y="549.80" font-size="8.3" fill="#231f20" text-anchor="end" >(μl)</text><text x="624.00" y="561.20" font-size="9.3" fill="#231f20" text-anchor="middle" >CSF net flow</text><text x="565.70" y="452.50" font-size="8.3" fill="#231f20" text-anchor="middle" >(A.U.)</text><text x="647.50" y="458.60" font-size="7" fill="#2a6fbf" text-anchor="start" ><tspan font-style="italic">p</tspan>=0.8103</text><text x="647.50" y="466.10" font-size="7" fill="#6f6f6f" text-anchor="start" ><tspan font-style="italic">p</tspan>=0.7155</text><text transform="translate(305.4 84.50) rotate(-90)" x="0" y="0" font-size="11.7" fill="#231f20" text-anchor="middle">Inhale length</text><text transform="translate(295.9 203.50) rotate(-90)" x="0" y="0" font-size="11.8" fill="#231f20" text-anchor="middle">Diaphragm</text><text transform="translate(305.4 203.50) rotate(-90)" x="0" y="0" font-size="11.8" fill="#231f20" text-anchor="middle">displacement</text><text transform="translate(305.4 372.40) rotate(-90)" x="0" y="0" font-size="11.7" fill="#231f20" text-anchor="middle">Inhale length</text><text transform="translate(295.9 490.75) rotate(-90)" x="0" y="0" font-size="11.8" fill="#231f20" text-anchor="middle">Diaphragm</text><text transform="translate(305.4 490.75) rotate(-90)" x="0" y="0" font-size="11.8" fill="#231f20" text-anchor="middle">displacement</text><text x="283.20" y="14.60" font-size="18" fill="#000" text-anchor="start" font-weight="bold" >b</text><text x="483.60" y="14.20" font-size="14" fill="#000" text-anchor="start" font-weight="bold" >FM</text><text x="483.60" y="305.40" font-size="14" fill="#000" text-anchor="start" font-weight="bold" >LV</text><text x="283.70" y="306.20" font-size="18" fill="#000" text-anchor="start" font-weight="bold" >c</text><circle cx="644.5" cy="8.7" r="3.3" fill="#2a6fbf"/><circle cx="644.5" cy="19.5" r="2.9" fill="none" stroke="#2a6fbf" stroke-width="1.3"/><rect x="641.7" y="27.4" width="5.7" height="5.7" fill="#6d6d6d"/><rect x="641.6" y="37.7" width="5.8" height="5.8" fill="none" stroke="#777" stroke-width="1"/><text x="654.20" y="12.00" font-size="9" fill="#231f20" text-anchor="start" >T DB</text><text x="654.20" y="22.60" font-size="9" fill="#231f20" text-anchor="start" >T RB</text><text x="654.20" y="33.20" font-size="9" fill="#231f20" text-anchor="start" >NT DB</text><text x="654.20" y="43.80" font-size="9" fill="#231f20" text-anchor="start" >NT RB</text><circle cx="644.5" cy="289.9" r="3.3" fill="#2a6fbf"/><circle cx="644.5" cy="300.7" r="2.9" fill="none" stroke="#2a6fbf" stroke-width="1.3"/><rect x="641.7" y="308.59999999999997" width="5.7" height="5.7" fill="#6d6d6d"/><rect x="641.6" y="318.9" width="5.8" height="5.8" fill="none" stroke="#777" stroke-width="1"/><text x="654.20" y="293.20" font-size="9" fill="#231f20" text-anchor="start" >T DB</text><text x="654.20" y="303.80" font-size="9" fill="#231f20" text-anchor="start" >T RB</text><text x="654.20" y="314.40" font-size="9" fill="#231f20" text-anchor="start" >NT DB</text><text x="654.20" y="325.00" font-size="9" fill="#231f20" text-anchor="start" >NT RB</text><rect x="348.55" y="113.55" width="3.1" height="3.1" fill="#fff" fill-opacity="0.7" stroke="#7d7d7d" stroke-width="0.75"/><rect x="356.55" y="113.05" width="3.1" height="3.1" fill="#fff" fill-opacity="0.7" stroke="#7d7d7d" stroke-width="0.75"/><rect x="358.95" y="113.35" width="3.1" height="3.1" fill="#fff" fill-opacity="0.7" stroke="#7d7d7d" stroke-width="0.75"/><rect x="362.95" y="111.45" width="3.1" height="3.1" fill="#fff" fill-opacity="0.7" stroke="#7d7d7d" stroke-width="0.75"/><rect x="363.75" y="114.65" width="3.1" height="3.1" fill="#fff" fill-opacity="0.7" stroke="#7d7d7d" stroke-width="0.75"/><rect x="366.25" y="101.85" width="3.1" height="3.1" fill="#fff" fill-opacity="0.7" stroke="#7d7d7d" stroke-width="0.75"/><rect x="354.65" y="105.05" width="3.1" height="3.1" fill="#fff" fill-opacity="0.7" stroke="#7d7d7d" stroke-width="0.75"/><rect x="354.95" y="109.85" width="3.1" height="3.1" fill="#fff" fill-opacity="0.7" stroke="#7d7d7d" stroke-width="0.75"/><rect x="381.45" y="103.45" width="3.1" height="3.1" fill="#fff" fill-opacity="0.7" stroke="#7d7d7d" stroke-width="0.75"/><rect x="383.05" y="113.35" width="3.1" height="3.1" fill="#fff" fill-opacity="0.7" stroke="#7d7d7d" stroke-width="0.75"/><rect x="390.25" y="113.05" width="3.1" height="3.1" fill="#fff" fill-opacity="0.7" stroke="#7d7d7d" stroke-width="0.75"/><rect x="397.15" y="114.65" width="3.1" height="3.1" fill="#fff" fill-opacity="0.7" stroke="#7d7d7d" stroke-width="0.75"/><rect x="375.85" y="114.65" width="3.1" height="3.1" fill="#fff" fill-opacity="0.7" stroke="#7d7d7d" stroke-width="0.75"/><rect x="366.25" y="113.85" width="3.1" height="3.1" fill="#fff" fill-opacity="0.7" stroke="#7d7d7d" stroke-width="0.75"/><rect x="360.68" y="110.85" width="3.1" height="3.1" fill="#fff" fill-opacity="0.7" stroke="#7d7d7d" stroke-width="0.75"/><rect x="379.01" y="108.55" width="3.1" height="3.1" fill="#fff" fill-opacity="0.7" stroke="#7d7d7d" stroke-width="0.75"/><rect x="375.36" y="105.14" width="3.1" height="3.1" fill="#fff" fill-opacity="0.7" stroke="#7d7d7d" stroke-width="0.75"/><rect x="355.83" y="106.72" width="3.1" height="3.1" fill="#fff" fill-opacity="0.7" stroke="#7d7d7d" stroke-width="0.75"/><rect x="380.67" y="109.15" width="3.1" height="3.1" fill="#fff" fill-opacity="0.7" stroke="#7d7d7d" stroke-width="0.75"/><rect x="366.02" y="110.89" width="3.1" height="3.1" fill="#fff" fill-opacity="0.7" stroke="#7d7d7d" stroke-width="0.75"/><rect x="344.50" y="91.30" width="3.2" height="3.2" fill="#6d6d6d"/><rect x="354.60" y="91.60" width="3.2" height="3.2" fill="#6d6d6d"/><rect x="371.80" y="88.60" width="3.2" height="3.2" fill="#6d6d6d"/><rect x="361.00" y="97.30" width="3.2" height="3.2" fill="#6d6d6d"/><rect x="351.70" y="99.80" width="3.2" height="3.2" fill="#6d6d6d"/><rect x="354.10" y="99.40" width="3.2" height="3.2" fill="#6d6d6d"/><rect x="383.80" y="95.00" width="3.2" height="3.2" fill="#6d6d6d"/><rect x="377.40" y="97.70" width="3.2" height="3.2" fill="#6d6d6d"/><rect x="389.90" y="102.10" width="3.2" height="3.2" fill="#6d6d6d"/><rect x="356.50" y="105.80" width="3.2" height="3.2" fill="#6d6d6d"/><rect x="358.90" y="106.60" width="3.2" height="3.2" fill="#6d6d6d"/><rect x="369.40" y="106.60" width="3.2" height="3.2" fill="#6d6d6d"/><rect x="371.00" y="109.00" width="3.2" height="3.2" fill="#6d6d6d"/><rect x="387.00" y="105.80" width="3.2" height="3.2" fill="#6d6d6d"/><rect x="374.20" y="111.40" width="3.2" height="3.2" fill="#6d6d6d"/><rect x="367.80" y="113.00" width="3.2" height="3.2" fill="#6d6d6d"/><rect x="381.40" y="113.00" width="3.2" height="3.2" fill="#6d6d6d"/><rect x="387.00" y="112.20" width="3.2" height="3.2" fill="#6d6d6d"/><rect x="389.40" y="108.50" width="3.2" height="3.2" fill="#6d6d6d"/><rect x="372.60" y="113.80" width="3.2" height="3.2" fill="#6d6d6d"/><rect x="366.35" y="106.06" width="3.2" height="3.2" fill="#6d6d6d"/><rect x="379.44" y="105.20" width="3.2" height="3.2" fill="#6d6d6d"/><rect x="374.84" y="108.42" width="3.2" height="3.2" fill="#6d6d6d"/><rect x="355.72" y="109.98" width="3.2" height="3.2" fill="#6d6d6d"/><rect x="354.90" y="109.17" width="3.2" height="3.2" fill="#6d6d6d"/><rect x="356.19" y="105.40" width="3.2" height="3.2" fill="#6d6d6d"/><rect x="370.38" y="113.50" width="3.2" height="3.2" fill="#6d6d6d"/><rect x="358.35" y="106.86" width="3.2" height="3.2" fill="#6d6d6d"/><rect x="378.50" y="114.82" width="3.2" height="3.2" fill="#6d6d6d"/><rect x="376.48" y="108.76" width="3.2" height="3.2" fill="#6d6d6d"/><rect x="392.45" y="104.91" width="3.2" height="3.2" fill="#6d6d6d"/><rect x="387.74" y="107.59" width="3.2" height="3.2" fill="#6d6d6d"/><rect x="359.17" y="105.70" width="3.2" height="3.2" fill="#6d6d6d"/><rect x="365.74" y="113.38" width="3.2" height="3.2" fill="#6d6d6d"/><line x1="345.6" y1="106.2" x2="399.1" y2="112.2" stroke="#565656" stroke-width="1.1"/><circle cx="367.40" cy="88.90" r="1.65" fill="none" stroke="#3a7ec5" stroke-width="1.05"/><circle cx="377.40" cy="103.70" r="1.65" fill="none" stroke="#3a7ec5" stroke-width="1.05"/><circle cx="381.40" cy="105.00" r="1.65" fill="none" stroke="#3a7ec5" stroke-width="1.05"/><circle cx="389.40" cy="102.10" r="1.65" fill="none" stroke="#3a7ec5" stroke-width="1.05"/><circle cx="399.10" cy="101.00" r="1.65" fill="none" stroke="#3a7ec5" stroke-width="1.05"/><circle cx="416.00" cy="102.60" r="1.65" fill="none" stroke="#3a7ec5" stroke-width="1.05"/><circle cx="410.60" cy="106.60" r="1.65" fill="none" stroke="#3a7ec5" stroke-width="1.05"/><circle cx="395.00" cy="109.00" r="1.65" fill="none" stroke="#3a7ec5" stroke-width="1.05"/><circle cx="389.40" cy="109.80" r="1.65" fill="none" stroke="#3a7ec5" stroke-width="1.05"/><circle cx="383.00" cy="110.60" r="1.65" fill="none" stroke="#3a7ec5" stroke-width="1.05"/><circle cx="381.40" cy="114.90" r="1.65" fill="none" stroke="#3a7ec5" stroke-width="1.05"/><circle cx="370.20" cy="106.60" r="1.65" fill="none" stroke="#3a7ec5" stroke-width="1.05"/><circle cx="367.00" cy="109.80" r="1.65" fill="none" stroke="#3a7ec5" stroke-width="1.05"/><circle cx="415.60" cy="113.80" r="1.65" fill="none" stroke="#3a7ec5" stroke-width="1.05"/><circle cx="374.20" cy="111.40" r="1.65" fill="none" stroke="#3a7ec5" stroke-width="1.05"/><circle cx="369.00" cy="114.30" r="1.65" fill="none" stroke="#3a7ec5" stroke-width="1.05"/><circle cx="369.40" cy="75.30" r="1.75" fill="#2168b4"/><circle cx="376.60" cy="73.20" r="1.75" fill="#2168b4"/><circle cx="377.70" cy="55.70" r="1.75" fill="#2168b4"/><circle cx="374.50" cy="86.20" r="1.75" fill="#2168b4"/><circle cx="365.80" cy="91.00" r="1.75" fill="#2168b4"/><circle cx="372.90" cy="92.60" r="1.75" fill="#2168b4"/><circle cx="401.00" cy="87.80" r="1.75" fill="#2168b4"/><circle cx="409.20" cy="95.00" r="1.75" fill="#2168b4"/><circle cx="405.20" cy="96.60" r="1.75" fill="#2168b4"/><circle cx="410.60" cy="99.70" r="1.75" fill="#2168b4"/><circle cx="380.30" cy="98.20" r="1.75" fill="#2168b4"/><circle cx="363.70" cy="101.30" r="1.75" fill="#2168b4"/><circle cx="426.80" cy="103.80" r="1.75" fill="#2168b4"/><circle cx="416.40" cy="111.40" r="1.75" fill="#2168b4"/><line x1="363.7" y1="99.3" x2="426.8" y2="105.3" stroke="#1f6db8" stroke-width="1.2"/><rect x="473.75" y="112.35" width="3.1" height="3.1" fill="#fff" fill-opacity="0.7" stroke="#7d7d7d" stroke-width="0.75"/><rect x="462.55" y="113.15" width="3.1" height="3.1" fill="#fff" fill-opacity="0.7" stroke="#7d7d7d" stroke-width="0.75"/><rect x="456.05" y="113.15" width="3.1" height="3.1" fill="#fff" fill-opacity="0.7" stroke="#7d7d7d" stroke-width="0.75"/><rect x="452.05" y="104.25" width="3.1" height="3.1" fill="#fff" fill-opacity="0.7" stroke="#7d7d7d" stroke-width="0.75"/><rect x="456.05" y="102.65" width="3.1" height="3.1" fill="#fff" fill-opacity="0.7" stroke="#7d7d7d" stroke-width="0.75"/><rect x="449.65" y="114.75" width="3.1" height="3.1" fill="#fff" fill-opacity="0.7" stroke="#7d7d7d" stroke-width="0.75"/><rect x="459.25" y="110.75" width="3.1" height="3.1" fill="#fff" fill-opacity="0.7" stroke="#7d7d7d" stroke-width="0.75"/><rect x="453.65" y="111.55" width="3.1" height="3.1" fill="#fff" fill-opacity="0.7" stroke="#7d7d7d" stroke-width="0.75"/><rect x="459.04" y="112.08" width="3.1" height="3.1" fill="#fff" fill-opacity="0.7" stroke="#7d7d7d" stroke-width="0.75"/><rect x="451.64" y="112.57" width="3.1" height="3.1" fill="#fff" fill-opacity="0.7" stroke="#7d7d7d" stroke-width="0.75"/><rect x="462.13" y="116.36" width="3.1" height="3.1" fill="#fff" fill-opacity="0.7" stroke="#7d7d7d" stroke-width="0.75"/><rect x="472.90" y="88.60" width="3.2" height="3.2" fill="#6d6d6d"/><rect x="463.30" y="95.10" width="3.2" height="3.2" fill="#6d6d6d"/><rect x="458.00" y="97.80" width="3.2" height="3.2" fill="#6d6d6d"/><rect x="452.80" y="99.40" width="3.2" height="3.2" fill="#6d6d6d"/><rect x="468.90" y="98.90" width="3.2" height="3.2" fill="#6d6d6d"/><rect x="464.10" y="97.00" width="3.2" height="3.2" fill="#6d6d6d"/><rect x="487.80" y="90.90" width="3.2" height="3.2" fill="#6d6d6d"/><rect x="489.40" y="90.90" width="3.2" height="3.2" fill="#6d6d6d"/><rect x="470.50" y="104.70" width="3.2" height="3.2" fill="#6d6d6d"/><rect x="476.60" y="105.80" width="3.2" height="3.2" fill="#6d6d6d"/><rect x="475.30" y="107.40" width="3.2" height="3.2" fill="#6d6d6d"/><rect x="464.10" y="103.40" width="3.2" height="3.2" fill="#6d6d6d"/><rect x="460.90" y="105.80" width="3.2" height="3.2" fill="#6d6d6d"/><rect x="457.60" y="108.20" width="3.2" height="3.2" fill="#6d6d6d"/><rect x="452.80" y="109.80" width="3.2" height="3.2" fill="#6d6d6d"/><rect x="450.40" y="112.30" width="3.2" height="3.2" fill="#6d6d6d"/><rect x="455.20" y="113.10" width="3.2" height="3.2" fill="#6d6d6d"/><rect x="451.20" y="115.50" width="3.2" height="3.2" fill="#6d6d6d"/><rect x="454.40" y="115.50" width="3.2" height="3.2" fill="#6d6d6d"/><rect x="484.90" y="95.40" width="3.2" height="3.2" fill="#6d6d6d"/><rect x="478.50" y="106.60" width="3.2" height="3.2" fill="#6d6d6d"/><rect x="458.61" y="107.30" width="3.2" height="3.2" fill="#6d6d6d"/><rect x="464.72" y="112.49" width="3.2" height="3.2" fill="#6d6d6d"/><rect x="454.87" y="110.87" width="3.2" height="3.2" fill="#6d6d6d"/><rect x="459.90" y="114.78" width="3.2" height="3.2" fill="#6d6d6d"/><rect x="463.56" y="107.14" width="3.2" height="3.2" fill="#6d6d6d"/><rect x="468.05" y="104.93" width="3.2" height="3.2" fill="#6d6d6d"/><rect x="457.98" y="113.24" width="3.2" height="3.2" fill="#6d6d6d"/><rect x="453.22" y="109.76" width="3.2" height="3.2" fill="#6d6d6d"/><rect x="451.20" y="112.09" width="3.2" height="3.2" fill="#6d6d6d"/><rect x="464.19" y="110.85" width="3.2" height="3.2" fill="#6d6d6d"/><rect x="466.17" y="107.48" width="3.2" height="3.2" fill="#6d6d6d"/><rect x="462.95" y="111.13" width="3.2" height="3.2" fill="#6d6d6d"/><rect x="460.88" y="109.33" width="3.2" height="3.2" fill="#6d6d6d"/><rect x="465.54" y="115.68" width="3.2" height="3.2" fill="#6d6d6d"/><rect x="455.35" y="112.11" width="3.2" height="3.2" fill="#6d6d6d"/><rect x="452.78" y="114.41" width="3.2" height="3.2" fill="#6d6d6d"/><rect x="450.63" y="113.17" width="3.2" height="3.2" fill="#6d6d6d"/><rect x="451.49" y="111.10" width="3.2" height="3.2" fill="#6d6d6d"/><rect x="450.85" y="115.01" width="3.2" height="3.2" fill="#6d6d6d"/><rect x="451.26" y="111.89" width="3.2" height="3.2" fill="#6d6d6d"/><rect x="452.81" y="115.63" width="3.2" height="3.2" fill="#6d6d6d"/><rect x="450.98" y="113.10" width="3.2" height="3.2" fill="#6d6d6d"/><line x1="450.4" y1="112.3" x2="491" y2="95.1" stroke="#565656" stroke-width="1.1"/><circle cx="479.30" cy="89.00" r="1.65" fill="none" stroke="#3a7ec5" stroke-width="1.05"/><circle cx="487.30" cy="101.80" r="1.65" fill="none" stroke="#3a7ec5" stroke-width="1.05"/><circle cx="492.20" cy="102.10" r="1.65" fill="none" stroke="#3a7ec5" stroke-width="1.05"/><circle cx="482.50" cy="104.20" r="1.65" fill="none" stroke="#3a7ec5" stroke-width="1.05"/><circle cx="500.20" cy="101.00" r="1.65" fill="none" stroke="#3a7ec5" stroke-width="1.05"/><circle cx="499.40" cy="103.70" r="1.65" fill="none" stroke="#3a7ec5" stroke-width="1.05"/><circle cx="466.50" cy="109.80" r="1.65" fill="none" stroke="#3a7ec5" stroke-width="1.05"/><circle cx="471.30" cy="110.60" r="1.65" fill="none" stroke="#3a7ec5" stroke-width="1.05"/><circle cx="457.60" cy="105.80" r="1.65" fill="none" stroke="#3a7ec5" stroke-width="1.05"/><circle cx="460.80" cy="114.70" r="1.65" fill="none" stroke="#3a7ec5" stroke-width="1.05"/><circle cx="454.40" cy="108.20" r="1.65" fill="none" stroke="#3a7ec5" stroke-width="1.05"/><circle cx="464.10" cy="113.90" r="1.65" fill="none" stroke="#3a7ec5" stroke-width="1.05"/><circle cx="468.90" cy="111.40" r="1.65" fill="none" stroke="#3a7ec5" stroke-width="1.05"/><circle cx="502.60" cy="55.20" r="1.75" fill="#2168b4"/><circle cx="496.20" cy="74.50" r="1.75" fill="#2168b4"/><circle cx="509.00" cy="72.60" r="1.75" fill="#2168b4"/><circle cx="544.70" cy="87.40" r="1.75" fill="#2168b4"/><circle cx="527.50" cy="90.90" r="1.75" fill="#2168b4"/><circle cx="521.60" cy="96.20" r="1.75" fill="#2168b4"/><circle cx="504.50" cy="98.10" r="1.75" fill="#2168b4"/><circle cx="509.80" cy="103.90" r="1.75" fill="#2168b4"/><circle cx="484.60" cy="91.90" r="1.75" fill="#2168b4"/><circle cx="485.70" cy="95.10" r="1.75" fill="#2168b4"/><circle cx="480.90" cy="99.40" r="1.75" fill="#2168b4"/><circle cx="480.90" cy="113.10" r="1.75" fill="#2168b4"/><circle cx="480.10" cy="86.10" r="1.75" fill="#2168b4"/><circle cx="470.50" cy="111.40" r="1.75" fill="#2168b4"/><circle cx="482.50" cy="101.00" r="1.75" fill="#2168b4"/><circle cx="499.40" cy="103.40" r="1.75" fill="#2168b4"/><circle cx="456.00" cy="105.00" r="1.75" fill="#2168b4"/><circle cx="452.80" cy="111.40" r="1.75" fill="#2168b4"/><circle cx="450.40" cy="114.70" r="1.75" fill="#2168b4"/><line x1="450.4" y1="112.3" x2="545.2" y2="78" stroke="#1f6db8" stroke-width="1.2"/><rect x="599.35" y="102.15" width="3.1" height="3.1" fill="#fff" fill-opacity="0.7" stroke="#7d7d7d" stroke-width="0.75"/><rect x="585.75" y="111.55" width="3.1" height="3.1" fill="#fff" fill-opacity="0.7" stroke="#7d7d7d" stroke-width="0.75"/><rect x="584.15" y="113.15" width="3.1" height="3.1" fill="#fff" fill-opacity="0.7" stroke="#7d7d7d" stroke-width="0.75"/><rect x="573.65" y="113.95" width="3.1" height="3.1" fill="#fff" fill-opacity="0.7" stroke="#7d7d7d" stroke-width="0.75"/><rect x="578.45" y="107.45" width="3.1" height="3.1" fill="#fff" fill-opacity="0.7" stroke="#7d7d7d" stroke-width="0.75"/><rect x="576.44" y="110.70" width="3.1" height="3.1" fill="#fff" fill-opacity="0.7" stroke="#7d7d7d" stroke-width="0.75"/><rect x="575.88" y="103.33" width="3.1" height="3.1" fill="#fff" fill-opacity="0.7" stroke="#7d7d7d" stroke-width="0.75"/><rect x="577.85" y="104.56" width="3.1" height="3.1" fill="#fff" fill-opacity="0.7" stroke="#7d7d7d" stroke-width="0.75"/><rect x="580.80" y="90.60" width="3.2" height="3.2" fill="#6d6d6d"/><rect x="590.50" y="87.70" width="3.2" height="3.2" fill="#6d6d6d"/><rect x="595.30" y="94.60" width="3.2" height="3.2" fill="#6d6d6d"/><rect x="621.80" y="90.60" width="3.2" height="3.2" fill="#6d6d6d"/><rect x="589.70" y="97.00" width="3.2" height="3.2" fill="#6d6d6d"/><rect x="588.10" y="102.60" width="3.2" height="3.2" fill="#6d6d6d"/><rect x="589.70" y="103.40" width="3.2" height="3.2" fill="#6d6d6d"/><rect x="598.50" y="105.00" width="3.2" height="3.2" fill="#6d6d6d"/><rect x="575.20" y="99.40" width="3.2" height="3.2" fill="#6d6d6d"/><rect x="576.00" y="101.80" width="3.2" height="3.2" fill="#6d6d6d"/><rect x="573.60" y="106.60" width="3.2" height="3.2" fill="#6d6d6d"/><rect x="575.20" y="108.20" width="3.2" height="3.2" fill="#6d6d6d"/><rect x="576.80" y="109.80" width="3.2" height="3.2" fill="#6d6d6d"/><rect x="578.40" y="110.70" width="3.2" height="3.2" fill="#6d6d6d"/><rect x="580.00" y="111.50" width="3.2" height="3.2" fill="#6d6d6d"/><rect x="581.60" y="109.00" width="3.2" height="3.2" fill="#6d6d6d"/><rect x="583.20" y="113.10" width="3.2" height="3.2" fill="#6d6d6d"/><rect x="584.90" y="113.90" width="3.2" height="3.2" fill="#6d6d6d"/><rect x="574.40" y="111.50" width="3.2" height="3.2" fill="#6d6d6d"/><rect x="576.00" y="113.10" width="3.2" height="3.2" fill="#6d6d6d"/><rect x="577.60" y="114.70" width="3.2" height="3.2" fill="#6d6d6d"/><rect x="579.20" y="113.90" width="3.2" height="3.2" fill="#6d6d6d"/><rect x="572.80" y="109.80" width="3.2" height="3.2" fill="#6d6d6d"/><rect x="580.80" y="106.60" width="3.2" height="3.2" fill="#6d6d6d"/><rect x="582.40" y="106.60" width="3.2" height="3.2" fill="#6d6d6d"/><rect x="586.50" y="103.40" width="3.2" height="3.2" fill="#6d6d6d"/><rect x="591.30" y="102.60" width="3.2" height="3.2" fill="#6d6d6d"/><rect x="582.36" y="113.88" width="3.2" height="3.2" fill="#6d6d6d"/><rect x="585.98" y="113.63" width="3.2" height="3.2" fill="#6d6d6d"/><rect x="578.73" y="107.80" width="3.2" height="3.2" fill="#6d6d6d"/><rect x="579.81" y="113.89" width="3.2" height="3.2" fill="#6d6d6d"/><rect x="587.83" y="104.36" width="3.2" height="3.2" fill="#6d6d6d"/><rect x="577.36" y="105.42" width="3.2" height="3.2" fill="#6d6d6d"/><rect x="578.13" y="108.70" width="3.2" height="3.2" fill="#6d6d6d"/><rect x="582.89" y="105.82" width="3.2" height="3.2" fill="#6d6d6d"/><rect x="575.05" y="107.85" width="3.2" height="3.2" fill="#6d6d6d"/><rect x="579.95" y="109.76" width="3.2" height="3.2" fill="#6d6d6d"/><rect x="587.77" y="111.38" width="3.2" height="3.2" fill="#6d6d6d"/><rect x="581.91" y="110.43" width="3.2" height="3.2" fill="#6d6d6d"/><rect x="584.06" y="103.10" width="3.2" height="3.2" fill="#6d6d6d"/><rect x="587.05" y="112.54" width="3.2" height="3.2" fill="#6d6d6d"/><rect x="586.72" y="112.77" width="3.2" height="3.2" fill="#6d6d6d"/><rect x="580.26" y="107.59" width="3.2" height="3.2" fill="#6d6d6d"/><rect x="578.88" y="105.98" width="3.2" height="3.2" fill="#6d6d6d"/><rect x="575.00" y="107.06" width="3.2" height="3.2" fill="#6d6d6d"/><rect x="576.16" y="109.40" width="3.2" height="3.2" fill="#6d6d6d"/><rect x="575.29" y="115.02" width="3.2" height="3.2" fill="#6d6d6d"/><rect x="582.00" y="107.03" width="3.2" height="3.2" fill="#6d6d6d"/><rect x="577.88" y="109.22" width="3.2" height="3.2" fill="#6d6d6d"/><rect x="579.15" y="106.75" width="3.2" height="3.2" fill="#6d6d6d"/><rect x="584.68" y="116.32" width="3.2" height="3.2" fill="#6d6d6d"/><rect x="580.31" y="110.72" width="3.2" height="3.2" fill="#6d6d6d"/><rect x="575.98" y="106.52" width="3.2" height="3.2" fill="#6d6d6d"/><rect x="578.91" y="108.31" width="3.2" height="3.2" fill="#6d6d6d"/><rect x="584.45" y="107.18" width="3.2" height="3.2" fill="#6d6d6d"/><rect x="575.26" y="115.86" width="3.2" height="3.2" fill="#6d6d6d"/><rect x="581.02" y="107.01" width="3.2" height="3.2" fill="#6d6d6d"/><rect x="581.19" y="105.70" width="3.2" height="3.2" fill="#6d6d6d"/><rect x="581.02" y="116.16" width="3.2" height="3.2" fill="#6d6d6d"/><rect x="584.84" y="113.06" width="3.2" height="3.2" fill="#6d6d6d"/><rect x="577.98" y="109.43" width="3.2" height="3.2" fill="#6d6d6d"/><rect x="576.90" y="113.89" width="3.2" height="3.2" fill="#6d6d6d"/><rect x="581.07" y="113.97" width="3.2" height="3.2" fill="#6d6d6d"/><rect x="578.76" y="107.85" width="3.2" height="3.2" fill="#6d6d6d"/><rect x="584.25" y="116.23" width="3.2" height="3.2" fill="#6d6d6d"/><line x1="573.6" y1="108.2" x2="624.2" y2="91.4" stroke="#565656" stroke-width="1.1"/><circle cx="641.90" cy="100.20" r="1.65" fill="none" stroke="#3a7ec5" stroke-width="1.05"/><circle cx="592.60" cy="87.70" r="1.65" fill="none" stroke="#3a7ec5" stroke-width="1.05"/><circle cx="587.30" cy="109.00" r="1.65" fill="none" stroke="#3a7ec5" stroke-width="1.05"/><circle cx="597.70" cy="105.80" r="1.65" fill="none" stroke="#3a7ec5" stroke-width="1.05"/><circle cx="578.40" cy="101.80" r="1.65" fill="none" stroke="#3a7ec5" stroke-width="1.05"/><circle cx="592.10" cy="109.50" r="1.65" fill="none" stroke="#3a7ec5" stroke-width="1.05"/><circle cx="576.80" cy="99.40" r="1.65" fill="none" stroke="#3a7ec5" stroke-width="1.05"/><circle cx="575.20" cy="106.60" r="1.65" fill="none" stroke="#3a7ec5" stroke-width="1.05"/><circle cx="581.60" cy="111.40" r="1.65" fill="none" stroke="#3a7ec5" stroke-width="1.05"/><circle cx="583.60" cy="54.80" r="1.75" fill="#2168b4"/><circle cx="605.70" cy="74.20" r="1.75" fill="#2168b4"/><circle cx="666.00" cy="72.30" r="1.75" fill="#2168b4"/><circle cx="582.90" cy="87.00" r="1.75" fill="#2168b4"/><circle cx="605.70" cy="85.40" r="1.75" fill="#2168b4"/><circle cx="613.00" cy="90.60" r="1.75" fill="#2168b4"/><circle cx="614.10" cy="91.90" r="1.75" fill="#2168b4"/><circle cx="625.30" cy="95.90" r="1.75" fill="#2168b4"/><circle cx="608.60" cy="94.60" r="1.75" fill="#2168b4"/><circle cx="582.40" cy="99.40" r="1.75" fill="#2168b4"/><circle cx="588.10" cy="100.20" r="1.75" fill="#2168b4"/><circle cx="595.80" cy="97.30" r="1.75" fill="#2168b4"/><circle cx="604.90" cy="103.40" r="1.75" fill="#2168b4"/><circle cx="602.50" cy="112.70" r="1.75" fill="#2168b4"/><circle cx="593.70" cy="110.20" r="1.75" fill="#2168b4"/><circle cx="578.40" cy="105.00" r="1.75" fill="#2168b4"/><circle cx="575.20" cy="108.20" r="1.75" fill="#2168b4"/><circle cx="573.60" cy="113.90" r="1.75" fill="#2168b4"/><circle cx="585.70" cy="101.00" r="1.75" fill="#2168b4"/><line x1="573.6" y1="106.3" x2="666" y2="77.7" stroke="#1f6db8" stroke-width="1.2"/><rect x="348.55" y="234.35" width="3.1" height="3.1" fill="#fff" fill-opacity="0.7" stroke="#7d7d7d" stroke-width="0.75"/><rect x="356.25" y="234.35" width="3.1" height="3.1" fill="#fff" fill-opacity="0.7" stroke="#7d7d7d" stroke-width="0.75"/><rect x="362.95" y="233.55" width="3.1" height="3.1" fill="#fff" fill-opacity="0.7" stroke="#7d7d7d" stroke-width="0.75"/><rect x="366.55" y="233.55" width="3.1" height="3.1" fill="#fff" fill-opacity="0.7" stroke="#7d7d7d" stroke-width="0.75"/><rect x="372.35" y="235.15" width="3.1" height="3.1" fill="#fff" fill-opacity="0.7" stroke="#7d7d7d" stroke-width="0.75"/><rect x="375.55" y="233.85" width="3.1" height="3.1" fill="#fff" fill-opacity="0.7" stroke="#7d7d7d" stroke-width="0.75"/><rect x="390.25" y="234.75" width="3.1" height="3.1" fill="#fff" fill-opacity="0.7" stroke="#7d7d7d" stroke-width="0.75"/><rect x="396.35" y="234.35" width="3.1" height="3.1" fill="#fff" fill-opacity="0.7" stroke="#7d7d7d" stroke-width="0.75"/><rect x="354.65" y="227.05" width="3.1" height="3.1" fill="#fff" fill-opacity="0.7" stroke="#7d7d7d" stroke-width="0.75"/><rect x="358.15" y="227.05" width="3.1" height="3.1" fill="#fff" fill-opacity="0.7" stroke="#7d7d7d" stroke-width="0.75"/><rect x="354.95" y="230.65" width="3.1" height="3.1" fill="#fff" fill-opacity="0.7" stroke="#7d7d7d" stroke-width="0.75"/><rect x="362.95" y="229.45" width="3.1" height="3.1" fill="#fff" fill-opacity="0.7" stroke="#7d7d7d" stroke-width="0.75"/><rect x="370.65" y="228.65" width="3.1" height="3.1" fill="#fff" fill-opacity="0.7" stroke="#7d7d7d" stroke-width="0.75"/><rect x="386.25" y="226.25" width="3.1" height="3.1" fill="#fff" fill-opacity="0.7" stroke="#7d7d7d" stroke-width="0.75"/><rect x="385.45" y="230.25" width="3.1" height="3.1" fill="#fff" fill-opacity="0.7" stroke="#7d7d7d" stroke-width="0.75"/><rect x="388.65" y="228.35" width="3.1" height="3.1" fill="#fff" fill-opacity="0.7" stroke="#7d7d7d" stroke-width="0.75"/><rect x="382.25" y="231.85" width="3.1" height="3.1" fill="#fff" fill-opacity="0.7" stroke="#7d7d7d" stroke-width="0.75"/><rect x="370.25" y="231.85" width="3.1" height="3.1" fill="#fff" fill-opacity="0.7" stroke="#7d7d7d" stroke-width="0.75"/><rect x="364.55" y="224.65" width="3.1" height="3.1" fill="#fff" fill-opacity="0.7" stroke="#7d7d7d" stroke-width="0.75"/><rect x="382.33" y="221.47" width="3.1" height="3.1" fill="#fff" fill-opacity="0.7" stroke="#7d7d7d" stroke-width="0.75"/><rect x="363.96" y="218.44" width="3.1" height="3.1" fill="#fff" fill-opacity="0.7" stroke="#7d7d7d" stroke-width="0.75"/><rect x="363.37" y="217.95" width="3.1" height="3.1" fill="#fff" fill-opacity="0.7" stroke="#7d7d7d" stroke-width="0.75"/><rect x="374.05" y="233.26" width="3.1" height="3.1" fill="#fff" fill-opacity="0.7" stroke="#7d7d7d" stroke-width="0.75"/><rect x="379.46" y="224.00" width="3.1" height="3.1" fill="#fff" fill-opacity="0.7" stroke="#7d7d7d" stroke-width="0.75"/><rect x="374.77" y="231.04" width="3.1" height="3.1" fill="#fff" fill-opacity="0.7" stroke="#7d7d7d" stroke-width="0.75"/><rect x="356.80" y="186.90" width="3.2" height="3.2" fill="#6d6d6d"/><rect x="371.80" y="193.80" width="3.2" height="3.2" fill="#6d6d6d"/><rect x="354.30" y="200.90" width="3.2" height="3.2" fill="#6d6d6d"/><rect x="376.60" y="202.10" width="3.2" height="3.2" fill="#6d6d6d"/><rect x="381.70" y="199.40" width="3.2" height="3.2" fill="#6d6d6d"/><rect x="389.40" y="198.90" width="3.2" height="3.2" fill="#6d6d6d"/><rect x="344.00" y="209.40" width="3.2" height="3.2" fill="#6d6d6d"/><rect x="357.80" y="207.80" width="3.2" height="3.2" fill="#6d6d6d"/><rect x="358.90" y="210.20" width="3.2" height="3.2" fill="#6d6d6d"/><rect x="358.60" y="212.60" width="3.2" height="3.2" fill="#6d6d6d"/><rect x="354.10" y="215.80" width="3.2" height="3.2" fill="#6d6d6d"/><rect x="371.90" y="212.10" width="3.2" height="3.2" fill="#6d6d6d"/><rect x="381.40" y="212.60" width="3.2" height="3.2" fill="#6d6d6d"/><rect x="389.10" y="214.50" width="3.2" height="3.2" fill="#6d6d6d"/><rect x="383.00" y="217.40" width="3.2" height="3.2" fill="#6d6d6d"/><rect x="372.60" y="219.00" width="3.2" height="3.2" fill="#6d6d6d"/><rect x="369.40" y="219.80" width="3.2" height="3.2" fill="#6d6d6d"/><rect x="367.80" y="221.90" width="3.2" height="3.2" fill="#6d6d6d"/><rect x="350.90" y="217.40" width="3.2" height="3.2" fill="#6d6d6d"/><rect x="386.20" y="216.60" width="3.2" height="3.2" fill="#6d6d6d"/><rect x="379.72" y="231.13" width="3.2" height="3.2" fill="#6d6d6d"/><rect x="378.86" y="229.68" width="3.2" height="3.2" fill="#6d6d6d"/><rect x="364.07" y="224.79" width="3.2" height="3.2" fill="#6d6d6d"/><rect x="367.29" y="214.04" width="3.2" height="3.2" fill="#6d6d6d"/><rect x="359.10" y="219.55" width="3.2" height="3.2" fill="#6d6d6d"/><rect x="364.88" y="228.64" width="3.2" height="3.2" fill="#6d6d6d"/><rect x="382.31" y="223.24" width="3.2" height="3.2" fill="#6d6d6d"/><rect x="381.83" y="235.14" width="3.2" height="3.2" fill="#6d6d6d"/><line x1="345.3" y1="219" x2="398.3" y2="225.4" stroke="#565656" stroke-width="1.1"/><circle cx="398.60" cy="202.10" r="1.65" fill="none" stroke="#3a7ec5" stroke-width="1.05"/><circle cx="367.00" cy="218.20" r="1.65" fill="none" stroke="#3a7ec5" stroke-width="1.05"/><circle cx="377.10" cy="220.60" r="1.65" fill="none" stroke="#3a7ec5" stroke-width="1.05"/><circle cx="381.90" cy="219.30" r="1.65" fill="none" stroke="#3a7ec5" stroke-width="1.05"/><circle cx="394.70" cy="219.30" r="1.65" fill="none" stroke="#3a7ec5" stroke-width="1.05"/><circle cx="415.10" cy="219.00" r="1.65" fill="none" stroke="#3a7ec5" stroke-width="1.05"/><circle cx="389.10" cy="223.00" r="1.65" fill="none" stroke="#3a7ec5" stroke-width="1.05"/><circle cx="377.10" cy="225.10" r="1.65" fill="none" stroke="#3a7ec5" stroke-width="1.05"/><circle cx="380.90" cy="224.10" r="1.65" fill="none" stroke="#3a7ec5" stroke-width="1.05"/><circle cx="409.80" cy="226.20" r="1.65" fill="none" stroke="#3a7ec5" stroke-width="1.05"/><circle cx="366.10" cy="227.80" r="1.65" fill="none" stroke="#3a7ec5" stroke-width="1.05"/><circle cx="381.40" cy="233.10" r="1.65" fill="none" stroke="#3a7ec5" stroke-width="1.05"/><circle cx="387.00" cy="234.70" r="1.65" fill="none" stroke="#3a7ec5" stroke-width="1.05"/><circle cx="414.80" cy="234.70" r="1.65" fill="none" stroke="#3a7ec5" stroke-width="1.05"/><circle cx="368.10" cy="231.00" r="1.65" fill="none" stroke="#3a7ec5" stroke-width="1.05"/><circle cx="372.60" cy="217.40" r="1.65" fill="none" stroke="#3a7ec5" stroke-width="1.05"/><circle cx="372.60" cy="182.90" r="1.75" fill="#2168b4"/><circle cx="369.00" cy="188.80" r="1.75" fill="#2168b4"/><circle cx="408.70" cy="191.40" r="1.75" fill="#2168b4"/><circle cx="377.10" cy="196.50" r="1.75" fill="#2168b4"/><circle cx="378.70" cy="198.90" r="1.75" fill="#2168b4"/><circle cx="365.00" cy="202.90" r="1.75" fill="#2168b4"/><circle cx="363.30" cy="210.20" r="1.75" fill="#2168b4"/><circle cx="374.20" cy="210.20" r="1.75" fill="#2168b4"/><circle cx="379.80" cy="211.40" r="1.75" fill="#2168b4"/><circle cx="375.00" cy="212.10" r="1.75" fill="#2168b4"/><circle cx="400.20" cy="210.60" r="1.75" fill="#2168b4"/><circle cx="409.80" cy="207.80" r="1.75" fill="#2168b4"/><circle cx="426.40" cy="210.50" r="1.75" fill="#2168b4"/><circle cx="404.40" cy="217.40" r="1.75" fill="#2168b4"/><circle cx="392.60" cy="228.60" r="1.75" fill="#2168b4"/><circle cx="416.70" cy="231.80" r="1.75" fill="#2168b4"/><circle cx="387.80" cy="235.40" r="1.75" fill="#2168b4"/><circle cx="369.40" cy="226.20" r="1.75" fill="#2168b4"/><line x1="363.3" y1="215" x2="426.4" y2="219.8" stroke="#1f6db8" stroke-width="1.2"/><rect x="474.55" y="225.75" width="3.1" height="3.1" fill="#fff" fill-opacity="0.7" stroke="#7d7d7d" stroke-width="0.75"/><rect x="463.35" y="226.25" width="3.1" height="3.1" fill="#fff" fill-opacity="0.7" stroke="#7d7d7d" stroke-width="0.75"/><rect x="461.75" y="227.05" width="3.1" height="3.1" fill="#fff" fill-opacity="0.7" stroke="#7d7d7d" stroke-width="0.75"/><rect x="456.05" y="228.35" width="3.1" height="3.1" fill="#fff" fill-opacity="0.7" stroke="#7d7d7d" stroke-width="0.75"/><rect x="458.45" y="225.45" width="3.1" height="3.1" fill="#fff" fill-opacity="0.7" stroke="#7d7d7d" stroke-width="0.75"/><rect x="460.18" y="230.14" width="3.1" height="3.1" fill="#fff" fill-opacity="0.7" stroke="#7d7d7d" stroke-width="0.75"/><rect x="456.05" y="235.26" width="3.1" height="3.1" fill="#fff" fill-opacity="0.7" stroke="#7d7d7d" stroke-width="0.75"/><rect x="479.30" y="185.80" width="3.2" height="3.2" fill="#6d6d6d"/><rect x="458.00" y="193.30" width="3.2" height="3.2" fill="#6d6d6d"/><rect x="458.60" y="201.30" width="3.2" height="3.2" fill="#6d6d6d"/><rect x="464.90" y="198.60" width="3.2" height="3.2" fill="#6d6d6d"/><rect x="469.20" y="199.70" width="3.2" height="3.2" fill="#6d6d6d"/><rect x="476.90" y="198.10" width="3.2" height="3.2" fill="#6d6d6d"/><rect x="475.60" y="207.40" width="3.2" height="3.2" fill="#6d6d6d"/><rect x="487.80" y="208.60" width="3.2" height="3.2" fill="#6d6d6d"/><rect x="454.40" y="209.00" width="3.2" height="3.2" fill="#6d6d6d"/><rect x="464.90" y="211.00" width="3.2" height="3.2" fill="#6d6d6d"/><rect x="457.60" y="211.80" width="3.2" height="3.2" fill="#6d6d6d"/><rect x="456.00" y="212.60" width="3.2" height="3.2" fill="#6d6d6d"/><rect x="490.10" y="215.00" width="3.2" height="3.2" fill="#6d6d6d"/><rect x="471.30" y="214.20" width="3.2" height="3.2" fill="#6d6d6d"/><rect x="475.30" y="212.60" width="3.2" height="3.2" fill="#6d6d6d"/><rect x="462.50" y="216.60" width="3.2" height="3.2" fill="#6d6d6d"/><rect x="453.60" y="216.60" width="3.2" height="3.2" fill="#6d6d6d"/><rect x="452.00" y="219.00" width="3.2" height="3.2" fill="#6d6d6d"/><rect x="451.20" y="222.20" width="3.2" height="3.2" fill="#6d6d6d"/><rect x="452.80" y="224.60" width="3.2" height="3.2" fill="#6d6d6d"/><rect x="454.40" y="227.00" width="3.2" height="3.2" fill="#6d6d6d"/><rect x="451.20" y="227.80" width="3.2" height="3.2" fill="#6d6d6d"/><rect x="452.00" y="230.20" width="3.2" height="3.2" fill="#6d6d6d"/><rect x="452.80" y="232.60" width="3.2" height="3.2" fill="#6d6d6d"/><rect x="451.20" y="234.30" width="3.2" height="3.2" fill="#6d6d6d"/><rect x="454.40" y="235.10" width="3.2" height="3.2" fill="#6d6d6d"/><rect x="456.00" y="231.80" width="3.2" height="3.2" fill="#6d6d6d"/><rect x="457.60" y="229.40" width="3.2" height="3.2" fill="#6d6d6d"/><rect x="450.40" y="225.40" width="3.2" height="3.2" fill="#6d6d6d"/><rect x="451.89" y="230.29" width="3.2" height="3.2" fill="#6d6d6d"/><rect x="459.56" y="232.48" width="3.2" height="3.2" fill="#6d6d6d"/><rect x="458.08" y="227.00" width="3.2" height="3.2" fill="#6d6d6d"/><rect x="452.76" y="232.60" width="3.2" height="3.2" fill="#6d6d6d"/><rect x="454.19" y="232.81" width="3.2" height="3.2" fill="#6d6d6d"/><rect x="460.14" y="225.53" width="3.2" height="3.2" fill="#6d6d6d"/><rect x="454.83" y="235.44" width="3.2" height="3.2" fill="#6d6d6d"/><rect x="457.84" y="221.46" width="3.2" height="3.2" fill="#6d6d6d"/><rect x="452.28" y="221.12" width="3.2" height="3.2" fill="#6d6d6d"/><rect x="459.52" y="232.92" width="3.2" height="3.2" fill="#6d6d6d"/><rect x="452.46" y="233.28" width="3.2" height="3.2" fill="#6d6d6d"/><rect x="460.22" y="230.23" width="3.2" height="3.2" fill="#6d6d6d"/><rect x="454.36" y="228.28" width="3.2" height="3.2" fill="#6d6d6d"/><rect x="452.32" y="218.66" width="3.2" height="3.2" fill="#6d6d6d"/><rect x="453.40" y="235.73" width="3.2" height="3.2" fill="#6d6d6d"/><rect x="455.48" y="227.14" width="3.2" height="3.2" fill="#6d6d6d"/><rect x="452.43" y="228.21" width="3.2" height="3.2" fill="#6d6d6d"/><rect x="452.37" y="232.02" width="3.2" height="3.2" fill="#6d6d6d"/><rect x="452.47" y="229.85" width="3.2" height="3.2" fill="#6d6d6d"/><rect x="451.79" y="236.23" width="3.2" height="3.2" fill="#6d6d6d"/><rect x="452.98" y="230.36" width="3.2" height="3.2" fill="#6d6d6d"/><rect x="454.19" y="236.16" width="3.2" height="3.2" fill="#6d6d6d"/><line x1="452" y1="225.4" x2="491.7" y2="200" stroke="#565656" stroke-width="1.1"/><circle cx="501.00" cy="201.30" r="1.65" fill="none" stroke="#3a7ec5" stroke-width="1.05"/><circle cx="493.00" cy="218.70" r="1.65" fill="none" stroke="#3a7ec5" stroke-width="1.05"/><circle cx="489.00" cy="223.00" r="1.65" fill="none" stroke="#3a7ec5" stroke-width="1.05"/><circle cx="483.00" cy="225.10" r="1.65" fill="none" stroke="#3a7ec5" stroke-width="1.05"/><circle cx="472.10" cy="223.80" r="1.65" fill="none" stroke="#3a7ec5" stroke-width="1.05"/><circle cx="472.90" cy="226.20" r="1.65" fill="none" stroke="#3a7ec5" stroke-width="1.05"/><circle cx="467.00" cy="223.50" r="1.65" fill="none" stroke="#3a7ec5" stroke-width="1.05"/><circle cx="480.10" cy="217.70" r="1.65" fill="none" stroke="#3a7ec5" stroke-width="1.05"/><circle cx="461.70" cy="234.20" r="1.65" fill="none" stroke="#3a7ec5" stroke-width="1.05"/><circle cx="457.60" cy="228.30" r="1.65" fill="none" stroke="#3a7ec5" stroke-width="1.05"/><circle cx="453.60" cy="223.00" r="1.65" fill="none" stroke="#3a7ec5" stroke-width="1.05"/><circle cx="458.40" cy="232.60" r="1.65" fill="none" stroke="#3a7ec5" stroke-width="1.05"/><circle cx="484.90" cy="182.40" r="1.75" fill="#2168b4"/><circle cx="486.10" cy="190.60" r="1.75" fill="#2168b4"/><circle cx="496.70" cy="188.20" r="1.75" fill="#2168b4"/><circle cx="503.10" cy="196.20" r="1.75" fill="#2168b4"/><circle cx="483.00" cy="198.40" r="1.75" fill="#2168b4"/><circle cx="528.00" cy="202.50" r="1.75" fill="#2168b4"/><circle cx="545.30" cy="210.20" r="1.75" fill="#2168b4"/><circle cx="505.00" cy="211.30" r="1.75" fill="#2168b4"/><circle cx="510.10" cy="210.20" r="1.75" fill="#2168b4"/><circle cx="509.50" cy="211.80" r="1.75" fill="#2168b4"/><circle cx="522.20" cy="216.90" r="1.75" fill="#2168b4"/><circle cx="500.20" cy="228.30" r="1.75" fill="#2168b4"/><circle cx="470.50" cy="231.80" r="1.75" fill="#2168b4"/><circle cx="480.90" cy="212.30" r="1.75" fill="#2168b4"/><circle cx="481.70" cy="209.40" r="1.75" fill="#2168b4"/><circle cx="483.70" cy="209.40" r="1.75" fill="#2168b4"/><circle cx="461.70" cy="235.10" r="1.75" fill="#2168b4"/><circle cx="454.40" cy="217.40" r="1.75" fill="#2168b4"/><circle cx="452.00" cy="231.00" r="1.75" fill="#2168b4"/><circle cx="462.50" cy="225.40" r="1.75" fill="#2168b4"/><line x1="452" y1="225.4" x2="545.6" y2="196.2" stroke="#1f6db8" stroke-width="1.2"/><rect x="600.95" y="220.35" width="3.1" height="3.1" fill="#fff" fill-opacity="0.7" stroke="#7d7d7d" stroke-width="0.75"/><rect x="584.15" y="225.15" width="3.1" height="3.1" fill="#fff" fill-opacity="0.7" stroke="#7d7d7d" stroke-width="0.75"/><rect x="586.15" y="229.45" width="3.1" height="3.1" fill="#fff" fill-opacity="0.7" stroke="#7d7d7d" stroke-width="0.75"/><rect x="580.05" y="233.55" width="3.1" height="3.1" fill="#fff" fill-opacity="0.7" stroke="#7d7d7d" stroke-width="0.75"/><rect x="585.75" y="234.75" width="3.1" height="3.1" fill="#fff" fill-opacity="0.7" stroke="#7d7d7d" stroke-width="0.75"/><rect x="581.65" y="222.25" width="3.1" height="3.1" fill="#fff" fill-opacity="0.7" stroke="#7d7d7d" stroke-width="0.75"/><rect x="582.38" y="226.56" width="3.1" height="3.1" fill="#fff" fill-opacity="0.7" stroke="#7d7d7d" stroke-width="0.75"/><rect x="581.33" y="230.30" width="3.1" height="3.1" fill="#fff" fill-opacity="0.7" stroke="#7d7d7d" stroke-width="0.75"/><rect x="590.00" y="185.80" width="3.2" height="3.2" fill="#6d6d6d"/><rect x="576.80" y="193.30" width="3.2" height="3.2" fill="#6d6d6d"/><rect x="579.70" y="198.10" width="3.2" height="3.2" fill="#6d6d6d"/><rect x="576.80" y="201.30" width="3.2" height="3.2" fill="#6d6d6d"/><rect x="589.70" y="198.90" width="3.2" height="3.2" fill="#6d6d6d"/><rect x="591.60" y="199.70" width="3.2" height="3.2" fill="#6d6d6d"/><rect x="582.40" y="207.00" width="3.2" height="3.2" fill="#6d6d6d"/><rect x="583.20" y="208.60" width="3.2" height="3.2" fill="#6d6d6d"/><rect x="622.60" y="208.90" width="3.2" height="3.2" fill="#6d6d6d"/><rect x="588.10" y="211.80" width="3.2" height="3.2" fill="#6d6d6d"/><rect x="590.50" y="211.00" width="3.2" height="3.2" fill="#6d6d6d"/><rect x="592.10" y="212.60" width="3.2" height="3.2" fill="#6d6d6d"/><rect x="578.40" y="213.40" width="3.2" height="3.2" fill="#6d6d6d"/><rect x="580.80" y="214.50" width="3.2" height="3.2" fill="#6d6d6d"/><rect x="596.90" y="217.10" width="3.2" height="3.2" fill="#6d6d6d"/><rect x="599.30" y="217.10" width="3.2" height="3.2" fill="#6d6d6d"/><rect x="592.90" y="215.80" width="3.2" height="3.2" fill="#6d6d6d"/><rect x="574.40" y="218.20" width="3.2" height="3.2" fill="#6d6d6d"/><rect x="576.00" y="220.60" width="3.2" height="3.2" fill="#6d6d6d"/><rect x="577.60" y="223.80" width="3.2" height="3.2" fill="#6d6d6d"/><rect x="575.20" y="225.40" width="3.2" height="3.2" fill="#6d6d6d"/><rect x="576.80" y="227.80" width="3.2" height="3.2" fill="#6d6d6d"/><rect x="578.40" y="230.20" width="3.2" height="3.2" fill="#6d6d6d"/><rect x="576.00" y="231.80" width="3.2" height="3.2" fill="#6d6d6d"/><rect x="574.40" y="233.50" width="3.2" height="3.2" fill="#6d6d6d"/><rect x="577.60" y="235.10" width="3.2" height="3.2" fill="#6d6d6d"/><rect x="580.00" y="233.50" width="3.2" height="3.2" fill="#6d6d6d"/><rect x="581.60" y="228.60" width="3.2" height="3.2" fill="#6d6d6d"/><rect x="579.20" y="227.00" width="3.2" height="3.2" fill="#6d6d6d"/><rect x="575.20" y="235.10" width="3.2" height="3.2" fill="#6d6d6d"/><rect x="580.32" y="234.75" width="3.2" height="3.2" fill="#6d6d6d"/><rect x="581.17" y="227.04" width="3.2" height="3.2" fill="#6d6d6d"/><rect x="581.40" y="216.77" width="3.2" height="3.2" fill="#6d6d6d"/><rect x="580.52" y="220.06" width="3.2" height="3.2" fill="#6d6d6d"/><rect x="575.94" y="232.38" width="3.2" height="3.2" fill="#6d6d6d"/><rect x="577.71" y="225.87" width="3.2" height="3.2" fill="#6d6d6d"/><rect x="583.51" y="227.53" width="3.2" height="3.2" fill="#6d6d6d"/><rect x="579.32" y="226.77" width="3.2" height="3.2" fill="#6d6d6d"/><rect x="581.73" y="232.09" width="3.2" height="3.2" fill="#6d6d6d"/><rect x="577.01" y="227.61" width="3.2" height="3.2" fill="#6d6d6d"/><rect x="578.51" y="221.94" width="3.2" height="3.2" fill="#6d6d6d"/><rect x="584.01" y="226.55" width="3.2" height="3.2" fill="#6d6d6d"/><rect x="581.80" y="231.60" width="3.2" height="3.2" fill="#6d6d6d"/><rect x="585.48" y="225.26" width="3.2" height="3.2" fill="#6d6d6d"/><rect x="578.84" y="230.40" width="3.2" height="3.2" fill="#6d6d6d"/><rect x="579.01" y="236.52" width="3.2" height="3.2" fill="#6d6d6d"/><rect x="580.44" y="235.55" width="3.2" height="3.2" fill="#6d6d6d"/><rect x="582.02" y="226.29" width="3.2" height="3.2" fill="#6d6d6d"/><rect x="579.54" y="236.55" width="3.2" height="3.2" fill="#6d6d6d"/><rect x="581.36" y="224.46" width="3.2" height="3.2" fill="#6d6d6d"/><rect x="576.69" y="229.03" width="3.2" height="3.2" fill="#6d6d6d"/><rect x="576.37" y="226.01" width="3.2" height="3.2" fill="#6d6d6d"/><rect x="576.38" y="232.44" width="3.2" height="3.2" fill="#6d6d6d"/><rect x="581.00" y="235.86" width="3.2" height="3.2" fill="#6d6d6d"/><line x1="575.2" y1="223" x2="623.7" y2="199.7" stroke="#565656" stroke-width="1.1"/><circle cx="642.70" cy="201.00" r="1.65" fill="none" stroke="#3a7ec5" stroke-width="1.05"/><circle cx="606.50" cy="211.80" r="1.65" fill="none" stroke="#3a7ec5" stroke-width="1.05"/><circle cx="594.50" cy="219.00" r="1.65" fill="none" stroke="#3a7ec5" stroke-width="1.05"/><circle cx="588.10" cy="217.70" r="1.65" fill="none" stroke="#3a7ec5" stroke-width="1.05"/><circle cx="590.50" cy="223.00" r="1.65" fill="none" stroke="#3a7ec5" stroke-width="1.05"/><circle cx="592.10" cy="224.10" r="1.65" fill="none" stroke="#3a7ec5" stroke-width="1.05"/><circle cx="598.50" cy="225.70" r="1.65" fill="none" stroke="#3a7ec5" stroke-width="1.05"/><circle cx="586.50" cy="235.90" r="1.65" fill="none" stroke="#3a7ec5" stroke-width="1.05"/><circle cx="576.80" cy="222.20" r="1.65" fill="none" stroke="#3a7ec5" stroke-width="1.05"/><circle cx="581.60" cy="226.20" r="1.65" fill="none" stroke="#3a7ec5" stroke-width="1.05"/><circle cx="614.60" cy="182.10" r="1.75" fill="#2168b4"/><circle cx="606.50" cy="188.00" r="1.75" fill="#2168b4"/><circle cx="609.70" cy="190.60" r="1.75" fill="#2168b4"/><circle cx="584.50" cy="196.00" r="1.75" fill="#2168b4"/><circle cx="589.30" cy="198.10" r="1.75" fill="#2168b4"/><circle cx="613.40" cy="202.10" r="1.75" fill="#2168b4"/><circle cx="666.70" cy="211.40" r="1.75" fill="#2168b4"/><circle cx="626.30" cy="216.90" r="1.75" fill="#2168b4"/><circle cx="582.90" cy="207.30" r="1.75" fill="#2168b4"/><circle cx="586.50" cy="209.40" r="1.75" fill="#2168b4"/><circle cx="596.40" cy="211.30" r="1.75" fill="#2168b4"/><circle cx="603.30" cy="209.70" r="1.75" fill="#2168b4"/><circle cx="605.70" cy="210.20" r="1.75" fill="#2168b4"/><circle cx="591.00" cy="228.30" r="1.75" fill="#2168b4"/><circle cx="595.30" cy="231.80" r="1.75" fill="#2168b4"/><circle cx="578.70" cy="218.20" r="1.75" fill="#2168b4"/><circle cx="576.00" cy="230.20" r="1.75" fill="#2168b4"/><circle cx="584.80" cy="235.10" r="1.75" fill="#2168b4"/><line x1="575.2" y1="222.2" x2="666.7" y2="192" stroke="#1f6db8" stroke-width="1.2"/><rect x="340.15" y="400.65" width="3.1" height="3.1" fill="#fff" fill-opacity="0.7" stroke="#7d7d7d" stroke-width="0.75"/><rect x="348.85" y="401.15" width="3.1" height="3.1" fill="#fff" fill-opacity="0.7" stroke="#7d7d7d" stroke-width="0.75"/><rect x="353.35" y="401.15" width="3.1" height="3.1" fill="#fff" fill-opacity="0.7" stroke="#7d7d7d" stroke-width="0.75"/><rect x="354.15" y="398.25" width="3.1" height="3.1" fill="#fff" fill-opacity="0.7" stroke="#7d7d7d" stroke-width="0.75"/><rect x="358.15" y="399.85" width="3.1" height="3.1" fill="#fff" fill-opacity="0.7" stroke="#7d7d7d" stroke-width="0.75"/><rect x="379.05" y="395.05" width="3.1" height="3.1" fill="#fff" fill-opacity="0.7" stroke="#7d7d7d" stroke-width="0.75"/><rect x="372.65" y="401.15" width="3.1" height="3.1" fill="#fff" fill-opacity="0.7" stroke="#7d7d7d" stroke-width="0.75"/><rect x="364.55" y="401.15" width="3.1" height="3.1" fill="#fff" fill-opacity="0.7" stroke="#7d7d7d" stroke-width="0.75"/><rect x="369.45" y="393.85" width="3.1" height="3.1" fill="#fff" fill-opacity="0.7" stroke="#7d7d7d" stroke-width="0.75"/><rect x="374.25" y="401.95" width="3.1" height="3.1" fill="#fff" fill-opacity="0.7" stroke="#7d7d7d" stroke-width="0.75"/><rect x="369.05" y="397.08" width="3.1" height="3.1" fill="#fff" fill-opacity="0.7" stroke="#7d7d7d" stroke-width="0.75"/><rect x="355.06" y="402.29" width="3.1" height="3.1" fill="#fff" fill-opacity="0.7" stroke="#7d7d7d" stroke-width="0.75"/><rect x="373.16" y="402.14" width="3.1" height="3.1" fill="#fff" fill-opacity="0.7" stroke="#7d7d7d" stroke-width="0.75"/><rect x="342.90" y="379.40" width="3.2" height="3.2" fill="#6d6d6d"/><rect x="373.10" y="375.70" width="3.2" height="3.2" fill="#6d6d6d"/><rect x="361.80" y="380.70" width="3.2" height="3.2" fill="#6d6d6d"/><rect x="375.00" y="383.40" width="3.2" height="3.2" fill="#6d6d6d"/><rect x="371.00" y="387.40" width="3.2" height="3.2" fill="#6d6d6d"/><rect x="344.50" y="391.40" width="3.2" height="3.2" fill="#6d6d6d"/><rect x="354.90" y="388.20" width="3.2" height="3.2" fill="#6d6d6d"/><rect x="336.40" y="393.40" width="3.2" height="3.2" fill="#6d6d6d"/><rect x="348.20" y="394.60" width="3.2" height="3.2" fill="#6d6d6d"/><rect x="358.10" y="391.40" width="3.2" height="3.2" fill="#6d6d6d"/><rect x="361.30" y="393.80" width="3.2" height="3.2" fill="#6d6d6d"/><rect x="366.20" y="393.80" width="3.2" height="3.2" fill="#6d6d6d"/><rect x="371.00" y="394.60" width="3.2" height="3.2" fill="#6d6d6d"/><rect x="372.60" y="397.00" width="3.2" height="3.2" fill="#6d6d6d"/><rect x="359.70" y="397.80" width="3.2" height="3.2" fill="#6d6d6d"/><rect x="364.50" y="397.80" width="3.2" height="3.2" fill="#6d6d6d"/><rect x="375.80" y="399.40" width="3.2" height="3.2" fill="#6d6d6d"/><rect x="367.80" y="401.90" width="3.2" height="3.2" fill="#6d6d6d"/><rect x="357.26" y="399.28" width="3.2" height="3.2" fill="#6d6d6d"/><rect x="369.91" y="392.97" width="3.2" height="3.2" fill="#6d6d6d"/><rect x="375.47" y="402.04" width="3.2" height="3.2" fill="#6d6d6d"/><rect x="358.89" y="401.88" width="3.2" height="3.2" fill="#6d6d6d"/><rect x="363.36" y="396.76" width="3.2" height="3.2" fill="#6d6d6d"/><rect x="378.15" y="400.56" width="3.2" height="3.2" fill="#6d6d6d"/><rect x="357.44" y="396.15" width="3.2" height="3.2" fill="#6d6d6d"/><rect x="366.29" y="395.13" width="3.2" height="3.2" fill="#6d6d6d"/><rect x="358.29" y="394.90" width="3.2" height="3.2" fill="#6d6d6d"/><rect x="371.45" y="391.61" width="3.2" height="3.2" fill="#6d6d6d"/><rect x="367.25" y="396.25" width="3.2" height="3.2" fill="#6d6d6d"/><rect x="353.85" y="395.05" width="3.2" height="3.2" fill="#6d6d6d"/><line x1="337.6" y1="395.4" x2="379.8" y2="396.6" stroke="#565656" stroke-width="1.1"/><circle cx="369.00" cy="385.50" r="1.65" fill="none" stroke="#3a7ec5" stroke-width="1.05"/><circle cx="381.90" cy="389.00" r="1.65" fill="none" stroke="#3a7ec5" stroke-width="1.05"/><circle cx="385.40" cy="389.80" r="1.65" fill="none" stroke="#3a7ec5" stroke-width="1.05"/><circle cx="350.90" cy="393.00" r="1.65" fill="none" stroke="#3a7ec5" stroke-width="1.05"/><circle cx="422.40" cy="399.10" r="1.65" fill="none" stroke="#3a7ec5" stroke-width="1.05"/><circle cx="414.00" cy="400.70" r="1.65" fill="none" stroke="#3a7ec5" stroke-width="1.05"/><circle cx="386.70" cy="402.20" r="1.65" fill="none" stroke="#3a7ec5" stroke-width="1.05"/><circle cx="379.80" cy="403.10" r="1.65" fill="none" stroke="#3a7ec5" stroke-width="1.05"/><circle cx="360.50" cy="403.90" r="1.65" fill="none" stroke="#3a7ec5" stroke-width="1.05"/><circle cx="365.30" cy="390.60" r="1.65" fill="none" stroke="#3a7ec5" stroke-width="1.05"/><circle cx="362.90" cy="397.80" r="1.65" fill="none" stroke="#3a7ec5" stroke-width="1.05"/><circle cx="395.10" cy="338.40" r="1.75" fill="#2168b4"/><circle cx="375.00" cy="366.80" r="1.75" fill="#2168b4"/><circle cx="372.10" cy="373.00" r="1.75" fill="#2168b4"/><circle cx="358.60" cy="380.70" r="1.75" fill="#2168b4"/><circle cx="360.50" cy="381.80" r="1.75" fill="#2168b4"/><circle cx="348.80" cy="386.60" r="1.75" fill="#2168b4"/><circle cx="359.70" cy="386.90" r="1.75" fill="#2168b4"/><circle cx="377.40" cy="383.40" r="1.75" fill="#2168b4"/><circle cx="406.30" cy="384.20" r="1.75" fill="#2168b4"/><circle cx="391.80" cy="388.70" r="1.75" fill="#2168b4"/><circle cx="366.10" cy="388.20" r="1.75" fill="#2168b4"/><circle cx="367.80" cy="390.60" r="1.75" fill="#2168b4"/><circle cx="377.10" cy="394.30" r="1.75" fill="#2168b4"/><circle cx="387.80" cy="397.50" r="1.75" fill="#2168b4"/><circle cx="422.00" cy="402.20" r="1.75" fill="#2168b4"/><circle cx="364.50" cy="398.60" r="1.75" fill="#2168b4"/><circle cx="371.00" cy="401.00" r="1.75" fill="#2168b4"/><line x1="349.3" y1="390.1" x2="422.7" y2="391.4" stroke="#1f6db8" stroke-width="1.2"/><rect x="478.55" y="399.15" width="3.1" height="3.1" fill="#fff" fill-opacity="0.7" stroke="#7d7d7d" stroke-width="0.75"/><rect x="461.75" y="398.75" width="3.1" height="3.1" fill="#fff" fill-opacity="0.7" stroke="#7d7d7d" stroke-width="0.75"/><rect x="459.25" y="401.95" width="3.1" height="3.1" fill="#fff" fill-opacity="0.7" stroke="#7d7d7d" stroke-width="0.75"/><rect x="454.45" y="396.25" width="3.1" height="3.1" fill="#fff" fill-opacity="0.7" stroke="#7d7d7d" stroke-width="0.75"/><rect x="457.95" y="402.57" width="3.1" height="3.1" fill="#fff" fill-opacity="0.7" stroke="#7d7d7d" stroke-width="0.75"/><rect x="454.44" y="393.00" width="3.1" height="3.1" fill="#fff" fill-opacity="0.7" stroke="#7d7d7d" stroke-width="0.75"/><rect x="483.70" y="375.00" width="3.2" height="3.2" fill="#6d6d6d"/><rect x="497.00" y="378.60" width="3.2" height="3.2" fill="#6d6d6d"/><rect x="531.50" y="380.20" width="3.2" height="3.2" fill="#6d6d6d"/><rect x="457.60" y="383.10" width="3.2" height="3.2" fill="#6d6d6d"/><rect x="460.90" y="386.90" width="3.2" height="3.2" fill="#6d6d6d"/><rect x="459.60" y="388.20" width="3.2" height="3.2" fill="#6d6d6d"/><rect x="452.80" y="389.00" width="3.2" height="3.2" fill="#6d6d6d"/><rect x="483.70" y="385.80" width="3.2" height="3.2" fill="#6d6d6d"/><rect x="521.90" y="388.20" width="3.2" height="3.2" fill="#6d6d6d"/><rect x="473.70" y="391.10" width="3.2" height="3.2" fill="#6d6d6d"/><rect x="486.50" y="393.80" width="3.2" height="3.2" fill="#6d6d6d"/><rect x="493.00" y="394.60" width="3.2" height="3.2" fill="#6d6d6d"/><rect x="481.70" y="395.40" width="3.2" height="3.2" fill="#6d6d6d"/><rect x="482.10" y="397.50" width="3.2" height="3.2" fill="#6d6d6d"/><rect x="462.50" y="393.80" width="3.2" height="3.2" fill="#6d6d6d"/><rect x="456.00" y="393.00" width="3.2" height="3.2" fill="#6d6d6d"/><rect x="454.40" y="391.40" width="3.2" height="3.2" fill="#6d6d6d"/><rect x="450.40" y="397.80" width="3.2" height="3.2" fill="#6d6d6d"/><rect x="452.00" y="399.50" width="3.2" height="3.2" fill="#6d6d6d"/><rect x="453.60" y="401.10" width="3.2" height="3.2" fill="#6d6d6d"/><rect x="455.20" y="398.70" width="3.2" height="3.2" fill="#6d6d6d"/><rect x="456.80" y="397.00" width="3.2" height="3.2" fill="#6d6d6d"/><rect x="458.40" y="400.30" width="3.2" height="3.2" fill="#6d6d6d"/><rect x="451.20" y="401.90" width="3.2" height="3.2" fill="#6d6d6d"/><rect x="454.40" y="402.70" width="3.2" height="3.2" fill="#6d6d6d"/><rect x="449.60" y="400.30" width="3.2" height="3.2" fill="#6d6d6d"/><rect x="457.60" y="401.90" width="3.2" height="3.2" fill="#6d6d6d"/><rect x="460.10" y="397.80" width="3.2" height="3.2" fill="#6d6d6d"/><rect x="452.39" y="394.59" width="3.2" height="3.2" fill="#6d6d6d"/><rect x="451.59" y="400.75" width="3.2" height="3.2" fill="#6d6d6d"/><rect x="454.43" y="392.95" width="3.2" height="3.2" fill="#6d6d6d"/><rect x="456.29" y="402.34" width="3.2" height="3.2" fill="#6d6d6d"/><rect x="461.17" y="394.50" width="3.2" height="3.2" fill="#6d6d6d"/><rect x="452.94" y="402.43" width="3.2" height="3.2" fill="#6d6d6d"/><rect x="458.12" y="399.81" width="3.2" height="3.2" fill="#6d6d6d"/><rect x="452.20" y="392.09" width="3.2" height="3.2" fill="#6d6d6d"/><rect x="459.56" y="396.50" width="3.2" height="3.2" fill="#6d6d6d"/><rect x="451.99" y="402.66" width="3.2" height="3.2" fill="#6d6d6d"/><rect x="458.90" y="401.02" width="3.2" height="3.2" fill="#6d6d6d"/><rect x="452.13" y="401.67" width="3.2" height="3.2" fill="#6d6d6d"/><rect x="451.92" y="401.75" width="3.2" height="3.2" fill="#6d6d6d"/><rect x="456.68" y="395.47" width="3.2" height="3.2" fill="#6d6d6d"/><rect x="456.00" y="396.78" width="3.2" height="3.2" fill="#6d6d6d"/><rect x="452.12" y="396.01" width="3.2" height="3.2" fill="#6d6d6d"/><rect x="451.57" y="396.42" width="3.2" height="3.2" fill="#6d6d6d"/><rect x="454.00" y="397.45" width="3.2" height="3.2" fill="#6d6d6d"/><rect x="458.16" y="397.30" width="3.2" height="3.2" fill="#6d6d6d"/><rect x="455.75" y="396.18" width="3.2" height="3.2" fill="#6d6d6d"/><rect x="454.33" y="394.58" width="3.2" height="3.2" fill="#6d6d6d"/><rect x="453.43" y="394.55" width="3.2" height="3.2" fill="#6d6d6d"/><rect x="457.92" y="399.91" width="3.2" height="3.2" fill="#6d6d6d"/><rect x="452.86" y="399.15" width="3.2" height="3.2" fill="#6d6d6d"/><rect x="459.79" y="395.46" width="3.2" height="3.2" fill="#6d6d6d"/><rect x="458.72" y="398.72" width="3.2" height="3.2" fill="#6d6d6d"/><rect x="455.70" y="402.75" width="3.2" height="3.2" fill="#6d6d6d"/><rect x="454.76" y="399.47" width="3.2" height="3.2" fill="#6d6d6d"/><line x1="451.2" y1="400.3" x2="535.5" y2="381" stroke="#565656" stroke-width="1.1"/><circle cx="475.30" cy="388.50" r="1.65" fill="none" stroke="#3a7ec5" stroke-width="1.05"/><circle cx="522.70" cy="385.50" r="1.65" fill="none" stroke="#3a7ec5" stroke-width="1.05"/><circle cx="530.70" cy="389.80" r="1.65" fill="none" stroke="#3a7ec5" stroke-width="1.05"/><circle cx="497.00" cy="390.10" r="1.65" fill="none" stroke="#3a7ec5" stroke-width="1.05"/><circle cx="481.70" cy="391.40" r="1.65" fill="none" stroke="#3a7ec5" stroke-width="1.05"/><circle cx="472.10" cy="397.00" r="1.65" fill="none" stroke="#3a7ec5" stroke-width="1.05"/><circle cx="467.30" cy="393.00" r="1.65" fill="none" stroke="#3a7ec5" stroke-width="1.05"/><circle cx="463.30" cy="400.30" r="1.65" fill="none" stroke="#3a7ec5" stroke-width="1.05"/><circle cx="532.30" cy="337.30" r="1.75" fill="#2168b4"/><circle cx="467.30" cy="366.20" r="1.75" fill="#2168b4"/><circle cx="505.30" cy="372.10" r="1.75" fill="#2168b4"/><circle cx="465.30" cy="380.20" r="1.75" fill="#2168b4"/><circle cx="469.70" cy="381.50" r="1.75" fill="#2168b4"/><circle cx="468.10" cy="386.60" r="1.75" fill="#2168b4"/><circle cx="491.40" cy="386.60" r="1.75" fill="#2168b4"/><circle cx="501.80" cy="383.70" r="1.75" fill="#2168b4"/><circle cx="536.30" cy="383.40" r="1.75" fill="#2168b4"/><circle cx="528.30" cy="389.50" r="1.75" fill="#2168b4"/><circle cx="470.80" cy="391.40" r="1.75" fill="#2168b4"/><circle cx="471.80" cy="398.20" r="1.75" fill="#2168b4"/><circle cx="471.30" cy="401.90" r="1.75" fill="#2168b4"/><circle cx="461.70" cy="393.00" r="1.75" fill="#2168b4"/><line x1="451.2" y1="397.8" x2="536.6" y2="373.4" stroke="#1f6db8" stroke-width="1.2"/><rect x="612.55" y="394.35" width="3.1" height="3.1" fill="#fff" fill-opacity="0.7" stroke="#7d7d7d" stroke-width="0.75"/><rect x="604.45" y="398.75" width="3.1" height="3.1" fill="#fff" fill-opacity="0.7" stroke="#7d7d7d" stroke-width="0.75"/><rect x="584.95" y="397.85" width="3.1" height="3.1" fill="#fff" fill-opacity="0.7" stroke="#7d7d7d" stroke-width="0.75"/><rect x="582.45" y="402.75" width="3.1" height="3.1" fill="#fff" fill-opacity="0.7" stroke="#7d7d7d" stroke-width="0.75"/><rect x="576.85" y="398.75" width="3.1" height="3.1" fill="#fff" fill-opacity="0.7" stroke="#7d7d7d" stroke-width="0.75"/><rect x="579.46" y="401.97" width="3.1" height="3.1" fill="#fff" fill-opacity="0.7" stroke="#7d7d7d" stroke-width="0.75"/><rect x="580.23" y="393.44" width="3.1" height="3.1" fill="#fff" fill-opacity="0.7" stroke="#7d7d7d" stroke-width="0.75"/><rect x="615.80" y="375.00" width="3.2" height="3.2" fill="#6d6d6d"/><rect x="586.50" y="378.90" width="3.2" height="3.2" fill="#6d6d6d"/><rect x="589.70" y="380.50" width="3.2" height="3.2" fill="#6d6d6d"/><rect x="577.60" y="383.40" width="3.2" height="3.2" fill="#6d6d6d"/><rect x="588.90" y="386.60" width="3.2" height="3.2" fill="#6d6d6d"/><rect x="595.30" y="385.80" width="3.2" height="3.2" fill="#6d6d6d"/><rect x="599.30" y="388.50" width="3.2" height="3.2" fill="#6d6d6d"/><rect x="580.00" y="389.00" width="3.2" height="3.2" fill="#6d6d6d"/><rect x="584.10" y="388.20" width="3.2" height="3.2" fill="#6d6d6d"/><rect x="604.10" y="395.40" width="3.2" height="3.2" fill="#6d6d6d"/><rect x="598.50" y="396.20" width="3.2" height="3.2" fill="#6d6d6d"/><rect x="588.10" y="395.40" width="3.2" height="3.2" fill="#6d6d6d"/><rect x="575.20" y="391.40" width="3.2" height="3.2" fill="#6d6d6d"/><rect x="576.80" y="393.80" width="3.2" height="3.2" fill="#6d6d6d"/><rect x="578.40" y="395.40" width="3.2" height="3.2" fill="#6d6d6d"/><rect x="580.00" y="397.00" width="3.2" height="3.2" fill="#6d6d6d"/><rect x="581.60" y="398.70" width="3.2" height="3.2" fill="#6d6d6d"/><rect x="575.20" y="397.80" width="3.2" height="3.2" fill="#6d6d6d"/><rect x="577.60" y="400.30" width="3.2" height="3.2" fill="#6d6d6d"/><rect x="580.00" y="401.10" width="3.2" height="3.2" fill="#6d6d6d"/><rect x="583.20" y="401.90" width="3.2" height="3.2" fill="#6d6d6d"/><rect x="574.40" y="401.10" width="3.2" height="3.2" fill="#6d6d6d"/><rect x="582.40" y="393.80" width="3.2" height="3.2" fill="#6d6d6d"/><rect x="584.90" y="396.20" width="3.2" height="3.2" fill="#6d6d6d"/><rect x="576.00" y="395.40" width="3.2" height="3.2" fill="#6d6d6d"/><rect x="579.20" y="392.20" width="3.2" height="3.2" fill="#6d6d6d"/><rect x="584.68" y="402.15" width="3.2" height="3.2" fill="#6d6d6d"/><rect x="580.58" y="400.05" width="3.2" height="3.2" fill="#6d6d6d"/><rect x="584.91" y="397.30" width="3.2" height="3.2" fill="#6d6d6d"/><rect x="581.32" y="393.27" width="3.2" height="3.2" fill="#6d6d6d"/><rect x="577.15" y="390.22" width="3.2" height="3.2" fill="#6d6d6d"/><rect x="577.34" y="398.77" width="3.2" height="3.2" fill="#6d6d6d"/><rect x="579.54" y="390.69" width="3.2" height="3.2" fill="#6d6d6d"/><rect x="577.51" y="400.18" width="3.2" height="3.2" fill="#6d6d6d"/><rect x="586.86" y="397.79" width="3.2" height="3.2" fill="#6d6d6d"/><rect x="579.86" y="391.79" width="3.2" height="3.2" fill="#6d6d6d"/><rect x="579.99" y="394.83" width="3.2" height="3.2" fill="#6d6d6d"/><rect x="578.37" y="394.64" width="3.2" height="3.2" fill="#6d6d6d"/><rect x="579.63" y="401.87" width="3.2" height="3.2" fill="#6d6d6d"/><rect x="588.07" y="396.06" width="3.2" height="3.2" fill="#6d6d6d"/><rect x="576.51" y="396.98" width="3.2" height="3.2" fill="#6d6d6d"/><rect x="581.20" y="398.43" width="3.2" height="3.2" fill="#6d6d6d"/><rect x="578.49" y="398.46" width="3.2" height="3.2" fill="#6d6d6d"/><rect x="576.55" y="395.57" width="3.2" height="3.2" fill="#6d6d6d"/><rect x="577.39" y="397.19" width="3.2" height="3.2" fill="#6d6d6d"/><rect x="576.91" y="392.67" width="3.2" height="3.2" fill="#6d6d6d"/><rect x="579.51" y="395.19" width="3.2" height="3.2" fill="#6d6d6d"/><rect x="582.30" y="398.75" width="3.2" height="3.2" fill="#6d6d6d"/><rect x="583.93" y="400.29" width="3.2" height="3.2" fill="#6d6d6d"/><rect x="583.59" y="402.95" width="3.2" height="3.2" fill="#6d6d6d"/><rect x="580.36" y="396.31" width="3.2" height="3.2" fill="#6d6d6d"/><rect x="586.25" y="394.19" width="3.2" height="3.2" fill="#6d6d6d"/><rect x="583.67" y="400.12" width="3.2" height="3.2" fill="#6d6d6d"/><rect x="576.93" y="402.42" width="3.2" height="3.2" fill="#6d6d6d"/><line x1="576.8" y1="396.2" x2="617.8" y2="387.4" stroke="#565656" stroke-width="1.1"/><circle cx="623.10" cy="391.40" r="1.65" fill="none" stroke="#3a7ec5" stroke-width="1.05"/><circle cx="663.90" cy="398.60" r="1.65" fill="none" stroke="#3a7ec5" stroke-width="1.05"/><circle cx="612.10" cy="400.30" r="1.65" fill="none" stroke="#3a7ec5" stroke-width="1.05"/><circle cx="597.70" cy="401.90" r="1.65" fill="none" stroke="#3a7ec5" stroke-width="1.05"/><circle cx="593.70" cy="403.10" r="1.65" fill="none" stroke="#3a7ec5" stroke-width="1.05"/><circle cx="603.30" cy="389.80" r="1.65" fill="none" stroke="#3a7ec5" stroke-width="1.05"/><circle cx="582.40" cy="389.00" r="1.65" fill="none" stroke="#3a7ec5" stroke-width="1.05"/><circle cx="600.90" cy="397.00" r="1.65" fill="none" stroke="#3a7ec5" stroke-width="1.05"/><circle cx="653.90" cy="338.10" r="1.75" fill="#2168b4"/><circle cx="588.90" cy="366.50" r="1.75" fill="#2168b4"/><circle cx="645.60" cy="372.50" r="1.75" fill="#2168b4"/><circle cx="632.20" cy="389.80" r="1.75" fill="#2168b4"/><circle cx="577.10" cy="380.20" r="1.75" fill="#2168b4"/><circle cx="579.20" cy="381.50" r="1.75" fill="#2168b4"/><circle cx="586.80" cy="383.10" r="1.75" fill="#2168b4"/><circle cx="596.10" cy="384.20" r="1.75" fill="#2168b4"/><circle cx="586.50" cy="385.80" r="1.75" fill="#2168b4"/><circle cx="594.50" cy="386.60" r="1.75" fill="#2168b4"/><circle cx="577.60" cy="388.20" r="1.75" fill="#2168b4"/><circle cx="596.10" cy="391.40" r="1.75" fill="#2168b4"/><circle cx="590.50" cy="387.90" r="1.75" fill="#2168b4"/><circle cx="588.10" cy="397.00" r="1.75" fill="#2168b4"/><circle cx="601.70" cy="396.20" r="1.75" fill="#2168b4"/><line x1="576.8" y1="394.6" x2="664.3" y2="375" stroke="#1f6db8" stroke-width="1.2"/><rect x="340.55" y="513.45" width="3.1" height="3.1" fill="#fff" fill-opacity="0.7" stroke="#7d7d7d" stroke-width="0.75"/><rect x="354.15" y="514.25" width="3.1" height="3.1" fill="#fff" fill-opacity="0.7" stroke="#7d7d7d" stroke-width="0.75"/><rect x="353.05" y="516.65" width="3.1" height="3.1" fill="#fff" fill-opacity="0.7" stroke="#7d7d7d" stroke-width="0.75"/><rect x="349.35" y="522.35" width="3.1" height="3.1" fill="#fff" fill-opacity="0.7" stroke="#7d7d7d" stroke-width="0.75"/><rect x="357.35" y="523.15" width="3.1" height="3.1" fill="#fff" fill-opacity="0.7" stroke="#7d7d7d" stroke-width="0.75"/><rect x="362.15" y="514.25" width="3.1" height="3.1" fill="#fff" fill-opacity="0.7" stroke="#7d7d7d" stroke-width="0.75"/><rect x="369.45" y="513.45" width="3.1" height="3.1" fill="#fff" fill-opacity="0.7" stroke="#7d7d7d" stroke-width="0.75"/><rect x="372.65" y="512.65" width="3.1" height="3.1" fill="#fff" fill-opacity="0.7" stroke="#7d7d7d" stroke-width="0.75"/><rect x="379.05" y="519.05" width="3.1" height="3.1" fill="#fff" fill-opacity="0.7" stroke="#7d7d7d" stroke-width="0.75"/><rect x="363.75" y="521.15" width="3.1" height="3.1" fill="#fff" fill-opacity="0.7" stroke="#7d7d7d" stroke-width="0.75"/><rect x="367.85" y="522.75" width="3.1" height="3.1" fill="#fff" fill-opacity="0.7" stroke="#7d7d7d" stroke-width="0.75"/><rect x="371.05" y="523.95" width="3.1" height="3.1" fill="#fff" fill-opacity="0.7" stroke="#7d7d7d" stroke-width="0.75"/><rect x="374.25" y="523.15" width="3.1" height="3.1" fill="#fff" fill-opacity="0.7" stroke="#7d7d7d" stroke-width="0.75"/><rect x="372.65" y="518.25" width="3.1" height="3.1" fill="#fff" fill-opacity="0.7" stroke="#7d7d7d" stroke-width="0.75"/><rect x="365.68" y="503.52" width="3.1" height="3.1" fill="#fff" fill-opacity="0.7" stroke="#7d7d7d" stroke-width="0.75"/><rect x="373.39" y="519.16" width="3.1" height="3.1" fill="#fff" fill-opacity="0.7" stroke="#7d7d7d" stroke-width="0.75"/><rect x="366.02" y="514.69" width="3.1" height="3.1" fill="#fff" fill-opacity="0.7" stroke="#7d7d7d" stroke-width="0.75"/><rect x="369.93" y="504.84" width="3.1" height="3.1" fill="#fff" fill-opacity="0.7" stroke="#7d7d7d" stroke-width="0.75"/><rect x="336.40" y="482.10" width="3.2" height="3.2" fill="#6d6d6d"/><rect x="344.80" y="486.90" width="3.2" height="3.2" fill="#6d6d6d"/><rect x="370.20" y="474.90" width="3.2" height="3.2" fill="#6d6d6d"/><rect x="371.00" y="489.00" width="3.2" height="3.2" fill="#6d6d6d"/><rect x="375.00" y="490.10" width="3.2" height="3.2" fill="#6d6d6d"/><rect x="348.50" y="496.10" width="3.2" height="3.2" fill="#6d6d6d"/><rect x="342.90" y="497.80" width="3.2" height="3.2" fill="#6d6d6d"/><rect x="370.60" y="500.60" width="3.2" height="3.2" fill="#6d6d6d"/><rect x="374.20" y="500.90" width="3.2" height="3.2" fill="#6d6d6d"/><rect x="354.60" y="503.00" width="3.2" height="3.2" fill="#6d6d6d"/><rect x="362.10" y="503.50" width="3.2" height="3.2" fill="#6d6d6d"/><rect x="372.60" y="504.10" width="3.2" height="3.2" fill="#6d6d6d"/><rect x="358.10" y="506.70" width="3.2" height="3.2" fill="#6d6d6d"/><rect x="364.50" y="508.60" width="3.2" height="3.2" fill="#6d6d6d"/><rect x="375.80" y="507.00" width="3.2" height="3.2" fill="#6d6d6d"/><rect x="355.70" y="507.00" width="3.2" height="3.2" fill="#6d6d6d"/><rect x="360.50" y="511.00" width="3.2" height="3.2" fill="#6d6d6d"/><rect x="368.60" y="510.20" width="3.2" height="3.2" fill="#6d6d6d"/><rect x="372.60" y="516.30" width="3.2" height="3.2" fill="#6d6d6d"/><rect x="362.90" y="517.40" width="3.2" height="3.2" fill="#6d6d6d"/><rect x="371.00" y="517.40" width="3.2" height="3.2" fill="#6d6d6d"/><rect x="375.70" y="516.57" width="3.2" height="3.2" fill="#6d6d6d"/><rect x="371.75" y="520.46" width="3.2" height="3.2" fill="#6d6d6d"/><rect x="356.88" y="514.40" width="3.2" height="3.2" fill="#6d6d6d"/><rect x="366.01" y="520.93" width="3.2" height="3.2" fill="#6d6d6d"/><rect x="373.52" y="520.75" width="3.2" height="3.2" fill="#6d6d6d"/><rect x="368.00" y="522.15" width="3.2" height="3.2" fill="#6d6d6d"/><rect x="370.47" y="517.96" width="3.2" height="3.2" fill="#6d6d6d"/><rect x="359.15" y="504.05" width="3.2" height="3.2" fill="#6d6d6d"/><rect x="356.73" y="510.97" width="3.2" height="3.2" fill="#6d6d6d"/><rect x="356.02" y="520.95" width="3.2" height="3.2" fill="#6d6d6d"/><rect x="367.36" y="516.58" width="3.2" height="3.2" fill="#6d6d6d"/><rect x="369.06" y="517.69" width="3.2" height="3.2" fill="#6d6d6d"/><line x1="337.6" y1="502.2" x2="379.8" y2="515" stroke="#565656" stroke-width="1.1"/><circle cx="365.80" cy="490.10" r="1.65" fill="none" stroke="#3a7ec5" stroke-width="1.05"/><circle cx="369.00" cy="506.20" r="1.65" fill="none" stroke="#3a7ec5" stroke-width="1.05"/><circle cx="381.40" cy="507.30" r="1.65" fill="none" stroke="#3a7ec5" stroke-width="1.05"/><circle cx="385.40" cy="508.30" r="1.65" fill="none" stroke="#3a7ec5" stroke-width="1.05"/><circle cx="350.90" cy="511.00" r="1.65" fill="none" stroke="#3a7ec5" stroke-width="1.05"/><circle cx="358.90" cy="514.20" r="1.65" fill="none" stroke="#3a7ec5" stroke-width="1.05"/><circle cx="375.80" cy="515.00" r="1.65" fill="none" stroke="#3a7ec5" stroke-width="1.05"/><circle cx="415.10" cy="514.20" r="1.65" fill="none" stroke="#3a7ec5" stroke-width="1.05"/><circle cx="360.50" cy="519.50" r="1.65" fill="none" stroke="#3a7ec5" stroke-width="1.05"/><circle cx="364.50" cy="521.40" r="1.65" fill="none" stroke="#3a7ec5" stroke-width="1.05"/><circle cx="380.30" cy="523.10" r="1.65" fill="none" stroke="#3a7ec5" stroke-width="1.05"/><circle cx="423.00" cy="523.10" r="1.65" fill="none" stroke="#3a7ec5" stroke-width="1.05"/><circle cx="372.60" cy="523.90" r="1.65" fill="none" stroke="#3a7ec5" stroke-width="1.05"/><circle cx="358.90" cy="470.90" r="1.75" fill="#2168b4"/><circle cx="366.60" cy="479.40" r="1.75" fill="#2168b4"/><circle cx="375.50" cy="476.80" r="1.75" fill="#2168b4"/><circle cx="395.40" cy="484.80" r="1.75" fill="#2168b4"/><circle cx="360.00" cy="486.90" r="1.75" fill="#2168b4"/><circle cx="360.50" cy="490.90" r="1.75" fill="#2168b4"/><circle cx="392.20" cy="496.10" r="1.75" fill="#2168b4"/><circle cx="407.10" cy="498.50" r="1.75" fill="#2168b4"/><circle cx="366.50" cy="498.20" r="1.75" fill="#2168b4"/><circle cx="369.70" cy="500.30" r="1.75" fill="#2168b4"/><circle cx="372.60" cy="501.40" r="1.75" fill="#2168b4"/><circle cx="349.30" cy="499.80" r="1.75" fill="#2168b4"/><circle cx="387.80" cy="505.10" r="1.75" fill="#2168b4"/><circle cx="362.90" cy="507.00" r="1.75" fill="#2168b4"/><circle cx="377.40" cy="505.40" r="1.75" fill="#2168b4"/><circle cx="422.70" cy="519.80" r="1.75" fill="#2168b4"/><circle cx="367.80" cy="516.60" r="1.75" fill="#2168b4"/><line x1="349.3" y1="500.3" x2="423.2" y2="513.1" stroke="#1f6db8" stroke-width="1.2"/><rect x="479.85" y="515.45" width="3.1" height="3.1" fill="#fff" fill-opacity="0.7" stroke="#7d7d7d" stroke-width="0.75"/><rect x="465.75" y="519.55" width="3.1" height="3.1" fill="#fff" fill-opacity="0.7" stroke="#7d7d7d" stroke-width="0.75"/><rect x="462.15" y="518.65" width="3.1" height="3.1" fill="#fff" fill-opacity="0.7" stroke="#7d7d7d" stroke-width="0.75"/><rect x="453.65" y="517.45" width="3.1" height="3.1" fill="#fff" fill-opacity="0.7" stroke="#7d7d7d" stroke-width="0.75"/><rect x="459.25" y="520.75" width="3.1" height="3.1" fill="#fff" fill-opacity="0.7" stroke="#7d7d7d" stroke-width="0.75"/><rect x="456.44" y="515.88" width="3.1" height="3.1" fill="#fff" fill-opacity="0.7" stroke="#7d7d7d" stroke-width="0.75"/><rect x="456.02" y="510.35" width="3.1" height="3.1" fill="#fff" fill-opacity="0.7" stroke="#7d7d7d" stroke-width="0.75"/><rect x="454.80" y="482.10" width="3.2" height="3.2" fill="#6d6d6d"/><rect x="461.20" y="487.70" width="3.2" height="3.2" fill="#6d6d6d"/><rect x="458.90" y="489.70" width="3.2" height="3.2" fill="#6d6d6d"/><rect x="473.70" y="486.90" width="3.2" height="3.2" fill="#6d6d6d"/><rect x="521.90" y="474.90" width="3.2" height="3.2" fill="#6d6d6d"/><rect x="493.80" y="496.10" width="3.2" height="3.2" fill="#6d6d6d"/><rect x="497.80" y="497.80" width="3.2" height="3.2" fill="#6d6d6d"/><rect x="474.00" y="500.60" width="3.2" height="3.2" fill="#6d6d6d"/><rect x="483.00" y="500.60" width="3.2" height="3.2" fill="#6d6d6d"/><rect x="484.90" y="500.90" width="3.2" height="3.2" fill="#6d6d6d"/><rect x="487.80" y="503.80" width="3.2" height="3.2" fill="#6d6d6d"/><rect x="484.10" y="506.20" width="3.2" height="3.2" fill="#6d6d6d"/><rect x="482.50" y="507.80" width="3.2" height="3.2" fill="#6d6d6d"/><rect x="475.30" y="505.40" width="3.2" height="3.2" fill="#6d6d6d"/><rect x="463.30" y="502.50" width="3.2" height="3.2" fill="#6d6d6d"/><rect x="454.10" y="503.00" width="3.2" height="3.2" fill="#6d6d6d"/><rect x="532.30" y="503.80" width="3.2" height="3.2" fill="#6d6d6d"/><rect x="462.50" y="513.40" width="3.2" height="3.2" fill="#6d6d6d"/><rect x="451.20" y="513.40" width="3.2" height="3.2" fill="#6d6d6d"/><rect x="452.80" y="516.60" width="3.2" height="3.2" fill="#6d6d6d"/><rect x="454.40" y="518.20" width="3.2" height="3.2" fill="#6d6d6d"/><rect x="456.00" y="519.80" width="3.2" height="3.2" fill="#6d6d6d"/><rect x="457.60" y="521.50" width="3.2" height="3.2" fill="#6d6d6d"/><rect x="452.00" y="522.30" width="3.2" height="3.2" fill="#6d6d6d"/><rect x="454.40" y="523.10" width="3.2" height="3.2" fill="#6d6d6d"/><rect x="458.40" y="523.90" width="3.2" height="3.2" fill="#6d6d6d"/><rect x="460.10" y="523.10" width="3.2" height="3.2" fill="#6d6d6d"/><rect x="451.20" y="519.80" width="3.2" height="3.2" fill="#6d6d6d"/><rect x="456.80" y="511.00" width="3.2" height="3.2" fill="#6d6d6d"/><rect x="455.20" y="509.40" width="3.2" height="3.2" fill="#6d6d6d"/><rect x="459.20" y="507.80" width="3.2" height="3.2" fill="#6d6d6d"/><rect x="458.22" y="512.44" width="3.2" height="3.2" fill="#6d6d6d"/><rect x="452.72" y="512.65" width="3.2" height="3.2" fill="#6d6d6d"/><rect x="458.15" y="511.68" width="3.2" height="3.2" fill="#6d6d6d"/><rect x="458.24" y="524.01" width="3.2" height="3.2" fill="#6d6d6d"/><rect x="456.20" y="514.52" width="3.2" height="3.2" fill="#6d6d6d"/><rect x="456.08" y="519.34" width="3.2" height="3.2" fill="#6d6d6d"/><rect x="458.47" y="518.27" width="3.2" height="3.2" fill="#6d6d6d"/><rect x="457.43" y="509.64" width="3.2" height="3.2" fill="#6d6d6d"/><rect x="453.32" y="512.46" width="3.2" height="3.2" fill="#6d6d6d"/><rect x="458.27" y="513.27" width="3.2" height="3.2" fill="#6d6d6d"/><rect x="456.81" y="508.60" width="3.2" height="3.2" fill="#6d6d6d"/><rect x="452.60" y="512.70" width="3.2" height="3.2" fill="#6d6d6d"/><rect x="457.68" y="519.47" width="3.2" height="3.2" fill="#6d6d6d"/><rect x="457.71" y="513.05" width="3.2" height="3.2" fill="#6d6d6d"/><rect x="457.73" y="515.19" width="3.2" height="3.2" fill="#6d6d6d"/><rect x="458.26" y="525.51" width="3.2" height="3.2" fill="#6d6d6d"/><rect x="452.21" y="518.83" width="3.2" height="3.2" fill="#6d6d6d"/><rect x="457.27" y="525.95" width="3.2" height="3.2" fill="#6d6d6d"/><rect x="454.93" y="516.16" width="3.2" height="3.2" fill="#6d6d6d"/><rect x="453.42" y="525.64" width="3.2" height="3.2" fill="#6d6d6d"/><rect x="453.43" y="520.54" width="3.2" height="3.2" fill="#6d6d6d"/><rect x="452.99" y="519.74" width="3.2" height="3.2" fill="#6d6d6d"/><rect x="458.10" y="514.26" width="3.2" height="3.2" fill="#6d6d6d"/><rect x="457.27" y="519.52" width="3.2" height="3.2" fill="#6d6d6d"/><line x1="457.6" y1="514.2" x2="533.9" y2="488" stroke="#565656" stroke-width="1.1"/><circle cx="497.80" cy="490.10" r="1.65" fill="none" stroke="#3a7ec5" stroke-width="1.05"/><circle cx="523.80" cy="506.20" r="1.65" fill="none" stroke="#3a7ec5" stroke-width="1.05"/><circle cx="531.20" cy="507.80" r="1.65" fill="none" stroke="#3a7ec5" stroke-width="1.05"/><circle cx="476.10" cy="513.70" r="1.65" fill="none" stroke="#3a7ec5" stroke-width="1.05"/><circle cx="469.20" cy="513.70" r="1.65" fill="none" stroke="#3a7ec5" stroke-width="1.05"/><circle cx="472.90" cy="514.20" r="1.65" fill="none" stroke="#3a7ec5" stroke-width="1.05"/><circle cx="472.60" cy="523.10" r="1.65" fill="none" stroke="#3a7ec5" stroke-width="1.05"/><circle cx="464.90" cy="523.90" r="1.65" fill="none" stroke="#3a7ec5" stroke-width="1.05"/><circle cx="453.60" cy="508.60" r="1.65" fill="none" stroke="#3a7ec5" stroke-width="1.05"/><circle cx="457.60" cy="508.60" r="1.65" fill="none" stroke="#3a7ec5" stroke-width="1.05"/><circle cx="459.20" cy="516.60" r="1.65" fill="none" stroke="#3a7ec5" stroke-width="1.05"/><circle cx="466.10" cy="470.90" r="1.75" fill="#2168b4"/><circle cx="468.10" cy="477.00" r="1.75" fill="#2168b4"/><circle cx="486.10" cy="479.40" r="1.75" fill="#2168b4"/><circle cx="492.60" cy="486.90" r="1.75" fill="#2168b4"/><circle cx="532.80" cy="484.80" r="1.75" fill="#2168b4"/><circle cx="470.50" cy="490.90" r="1.75" fill="#2168b4"/><circle cx="463.60" cy="496.10" r="1.75" fill="#2168b4"/><circle cx="463.60" cy="498.20" r="1.75" fill="#2168b4"/><circle cx="468.90" cy="499.80" r="1.75" fill="#2168b4"/><circle cx="471.80" cy="500.60" r="1.75" fill="#2168b4"/><circle cx="483.30" cy="498.50" r="1.75" fill="#2168b4"/><circle cx="502.60" cy="498.50" r="1.75" fill="#2168b4"/><circle cx="506.10" cy="500.90" r="1.75" fill="#2168b4"/><circle cx="537.10" cy="505.70" r="1.75" fill="#2168b4"/><circle cx="528.30" cy="517.00" r="1.75" fill="#2168b4"/><circle cx="458.00" cy="505.40" r="1.75" fill="#2168b4"/><circle cx="471.80" cy="519.80" r="1.75" fill="#2168b4"/><circle cx="472.90" cy="513.10" r="1.75" fill="#2168b4"/><circle cx="452.80" cy="508.60" r="1.75" fill="#2168b4"/><line x1="452" y1="507" x2="537.1" y2="497.7" stroke="#1f6db8" stroke-width="1.2"/><rect x="604.45" y="522.35" width="3.1" height="3.1" fill="#fff" fill-opacity="0.7" stroke="#7d7d7d" stroke-width="0.75"/><rect x="612.55" y="519.05" width="3.1" height="3.1" fill="#fff" fill-opacity="0.7" stroke="#7d7d7d" stroke-width="0.75"/><rect x="587.75" y="517.95" width="3.1" height="3.1" fill="#fff" fill-opacity="0.7" stroke="#7d7d7d" stroke-width="0.75"/><rect x="582.45" y="516.65" width="3.1" height="3.1" fill="#fff" fill-opacity="0.7" stroke="#7d7d7d" stroke-width="0.75"/><rect x="581.65" y="521.55" width="3.1" height="3.1" fill="#fff" fill-opacity="0.7" stroke="#7d7d7d" stroke-width="0.75"/><rect x="580.04" y="507.32" width="3.1" height="3.1" fill="#fff" fill-opacity="0.7" stroke="#7d7d7d" stroke-width="0.75"/><rect x="578.03" y="521.47" width="3.1" height="3.1" fill="#fff" fill-opacity="0.7" stroke="#7d7d7d" stroke-width="0.75"/><rect x="583.70" y="474.60" width="3.2" height="3.2" fill="#6d6d6d"/><rect x="577.60" y="481.80" width="3.2" height="3.2" fill="#6d6d6d"/><rect x="579.20" y="486.60" width="3.2" height="3.2" fill="#6d6d6d"/><rect x="577.60" y="489.30" width="3.2" height="3.2" fill="#6d6d6d"/><rect x="588.90" y="488.50" width="3.2" height="3.2" fill="#6d6d6d"/><rect x="582.40" y="495.80" width="3.2" height="3.2" fill="#6d6d6d"/><rect x="586.50" y="497.40" width="3.2" height="3.2" fill="#6d6d6d"/><rect x="603.80" y="500.60" width="3.2" height="3.2" fill="#6d6d6d"/><rect x="616.20" y="500.60" width="3.2" height="3.2" fill="#6d6d6d"/><rect x="576.00" y="500.60" width="3.2" height="3.2" fill="#6d6d6d"/><rect x="584.10" y="502.20" width="3.2" height="3.2" fill="#6d6d6d"/><rect x="589.70" y="503.50" width="3.2" height="3.2" fill="#6d6d6d"/><rect x="596.10" y="505.40" width="3.2" height="3.2" fill="#6d6d6d"/><rect x="598.50" y="507.00" width="3.2" height="3.2" fill="#6d6d6d"/><rect x="599.30" y="509.90" width="3.2" height="3.2" fill="#6d6d6d"/><rect x="580.00" y="507.80" width="3.2" height="3.2" fill="#6d6d6d"/><rect x="581.60" y="507.00" width="3.2" height="3.2" fill="#6d6d6d"/><rect x="575.20" y="508.60" width="3.2" height="3.2" fill="#6d6d6d"/><rect x="576.80" y="511.00" width="3.2" height="3.2" fill="#6d6d6d"/><rect x="579.20" y="513.40" width="3.2" height="3.2" fill="#6d6d6d"/><rect x="580.80" y="515.80" width="3.2" height="3.2" fill="#6d6d6d"/><rect x="575.20" y="516.60" width="3.2" height="3.2" fill="#6d6d6d"/><rect x="577.60" y="518.20" width="3.2" height="3.2" fill="#6d6d6d"/><rect x="580.00" y="519.80" width="3.2" height="3.2" fill="#6d6d6d"/><rect x="582.40" y="521.50" width="3.2" height="3.2" fill="#6d6d6d"/><rect x="576.00" y="522.30" width="3.2" height="3.2" fill="#6d6d6d"/><rect x="579.20" y="523.10" width="3.2" height="3.2" fill="#6d6d6d"/><rect x="583.20" y="523.10" width="3.2" height="3.2" fill="#6d6d6d"/><rect x="584.90" y="518.20" width="3.2" height="3.2" fill="#6d6d6d"/><rect x="574.40" y="519.80" width="3.2" height="3.2" fill="#6d6d6d"/><rect x="587.09" y="519.06" width="3.2" height="3.2" fill="#6d6d6d"/><rect x="579.48" y="522.56" width="3.2" height="3.2" fill="#6d6d6d"/><rect x="582.44" y="506.85" width="3.2" height="3.2" fill="#6d6d6d"/><rect x="576.84" y="515.25" width="3.2" height="3.2" fill="#6d6d6d"/><rect x="582.03" y="511.84" width="3.2" height="3.2" fill="#6d6d6d"/><rect x="578.43" y="512.59" width="3.2" height="3.2" fill="#6d6d6d"/><rect x="580.47" y="521.52" width="3.2" height="3.2" fill="#6d6d6d"/><rect x="576.82" y="519.91" width="3.2" height="3.2" fill="#6d6d6d"/><rect x="586.53" y="508.56" width="3.2" height="3.2" fill="#6d6d6d"/><rect x="587.55" y="519.23" width="3.2" height="3.2" fill="#6d6d6d"/><rect x="587.26" y="511.62" width="3.2" height="3.2" fill="#6d6d6d"/><rect x="581.12" y="513.47" width="3.2" height="3.2" fill="#6d6d6d"/><rect x="588.39" y="517.01" width="3.2" height="3.2" fill="#6d6d6d"/><rect x="580.98" y="514.10" width="3.2" height="3.2" fill="#6d6d6d"/><rect x="578.97" y="525.37" width="3.2" height="3.2" fill="#6d6d6d"/><rect x="578.69" y="514.65" width="3.2" height="3.2" fill="#6d6d6d"/><rect x="580.68" y="513.44" width="3.2" height="3.2" fill="#6d6d6d"/><rect x="579.64" y="525.70" width="3.2" height="3.2" fill="#6d6d6d"/><rect x="583.52" y="523.39" width="3.2" height="3.2" fill="#6d6d6d"/><rect x="581.59" y="525.01" width="3.2" height="3.2" fill="#6d6d6d"/><rect x="583.95" y="519.19" width="3.2" height="3.2" fill="#6d6d6d"/><rect x="582.27" y="511.19" width="3.2" height="3.2" fill="#6d6d6d"/><rect x="582.37" y="517.61" width="3.2" height="3.2" fill="#6d6d6d"/><rect x="582.52" y="520.71" width="3.2" height="3.2" fill="#6d6d6d"/><rect x="578.98" y="511.18" width="3.2" height="3.2" fill="#6d6d6d"/><rect x="583.84" y="512.44" width="3.2" height="3.2" fill="#6d6d6d"/><line x1="576.8" y1="511" x2="617.8" y2="508.3" stroke="#565656" stroke-width="1.1"/><circle cx="604.10" cy="489.70" r="1.65" fill="none" stroke="#3a7ec5" stroke-width="1.05"/><circle cx="603.30" cy="507.80" r="1.65" fill="none" stroke="#3a7ec5" stroke-width="1.05"/><circle cx="612.10" cy="514.20" r="1.65" fill="none" stroke="#3a7ec5" stroke-width="1.05"/><circle cx="623.40" cy="513.40" r="1.65" fill="none" stroke="#3a7ec5" stroke-width="1.05"/><circle cx="663.90" cy="522.70" r="1.65" fill="none" stroke="#3a7ec5" stroke-width="1.05"/><circle cx="594.50" cy="522.70" r="1.65" fill="none" stroke="#3a7ec5" stroke-width="1.05"/><circle cx="587.30" cy="515.80" r="1.65" fill="none" stroke="#3a7ec5" stroke-width="1.05"/><circle cx="584.80" cy="514.20" r="1.65" fill="none" stroke="#3a7ec5" stroke-width="1.05"/><circle cx="579.20" cy="507.00" r="1.65" fill="none" stroke="#3a7ec5" stroke-width="1.05"/><circle cx="578.40" cy="515.00" r="1.65" fill="none" stroke="#3a7ec5" stroke-width="1.05"/><circle cx="577.60" cy="470.90" r="1.75" fill="#2168b4"/><circle cx="588.90" cy="476.50" r="1.75" fill="#2168b4"/><circle cx="590.80" cy="479.20" r="1.75" fill="#2168b4"/><circle cx="594.80" cy="486.90" r="1.75" fill="#2168b4"/><circle cx="653.90" cy="484.80" r="1.75" fill="#2168b4"/><circle cx="577.60" cy="495.80" r="1.75" fill="#2168b4"/><circle cx="596.40" cy="498.20" r="1.75" fill="#2168b4"/><circle cx="588.90" cy="498.20" r="1.75" fill="#2168b4"/><circle cx="581.60" cy="500.30" r="1.75" fill="#2168b4"/><circle cx="645.90" cy="500.60" r="1.75" fill="#2168b4"/><circle cx="586.80" cy="499.80" r="1.75" fill="#2168b4"/><circle cx="632.20" cy="516.60" r="1.75" fill="#2168b4"/><circle cx="580.80" cy="505.40" r="1.75" fill="#2168b4"/><circle cx="580.00" cy="511.80" r="1.75" fill="#2168b4"/><circle cx="596.10" cy="506.20" r="1.75" fill="#2168b4"/><circle cx="584.80" cy="506.20" r="1.75" fill="#2168b4"/><line x1="576.8" y1="504.6" x2="664.8" y2="506.2" stroke="#1f6db8" stroke-width="1.2"/>
</svg></body></html>
